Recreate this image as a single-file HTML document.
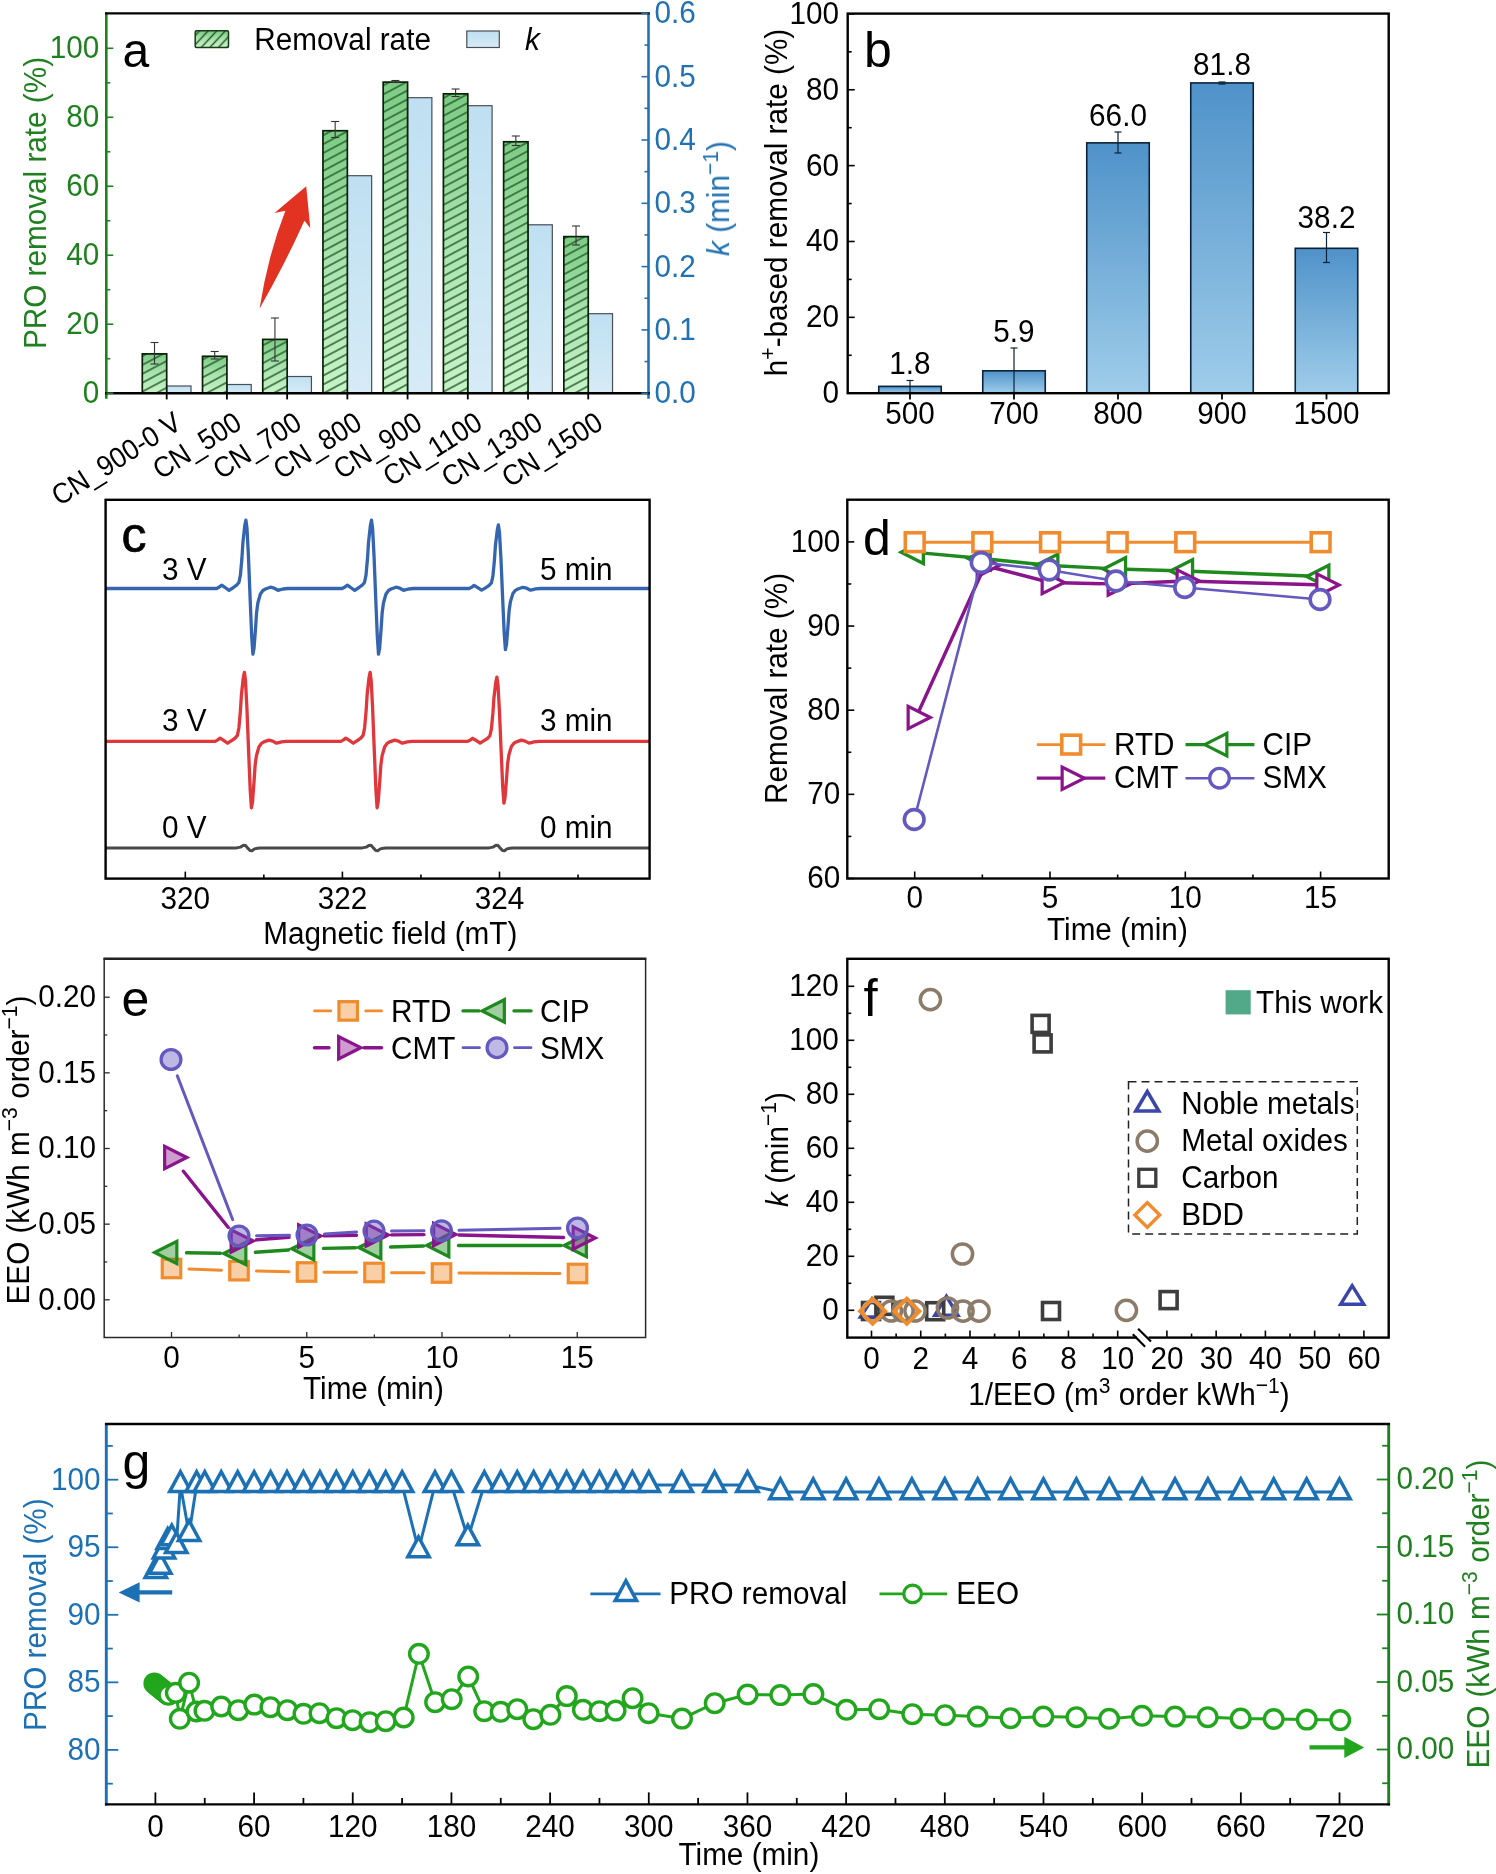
<!DOCTYPE html>
<html><head><meta charset="utf-8"><title>Figure</title>
<style>
html,body{margin:0;padding:0;background:#fff;}
svg{display:block;font-family:"Liberation Sans",sans-serif;}
</style></head><body>
<svg width="1496" height="1874" viewBox="0 0 1496 1874">
<defs>
<linearGradient id="gg" x1="0" y1="0" x2="0" y2="1"><stop offset="0" stop-color="#7CCB83"/><stop offset="0.5" stop-color="#ABE3B0"/><stop offset="1" stop-color="#C8F2C8"/></linearGradient>
<linearGradient id="gb" x1="0" y1="0" x2="0" y2="1"><stop offset="0" stop-color="#BFE0F2"/><stop offset="1" stop-color="#D6EBF6"/></linearGradient>
<linearGradient id="bb" x1="0" y1="0" x2="0" y2="1"><stop offset="0" stop-color="#4F92C9"/><stop offset="1" stop-color="#9FCDEA"/></linearGradient>
<pattern id="hatch" width="7.86" height="7.86" patternUnits="userSpaceOnUse" patternTransform="rotate(-28)"><line x1="0" y1="3.93" x2="7.86" y2="3.93" stroke="#24602c" stroke-width="1.5"/></pattern>
<pattern id="hatch2" width="6.3" height="6.3" patternUnits="userSpaceOnUse" patternTransform="rotate(-47)"><line x1="0" y1="3.15" x2="6.3" y2="3.15" stroke="#1d5524" stroke-width="1.4"/></pattern>
</defs>
<rect width="1496" height="1874" fill="#fff"/>
<g opacity="0.999">
<g id="panel-a">
<rect x="166.7" y="386" width="24.3" height="7.2" fill="url(#gb)" stroke="#4a4f55" stroke-width="1.2"/>
<rect x="142.3" y="353.88" width="24.4" height="39.32" fill="url(#gg)"/>
<rect x="142.3" y="353.88" width="24.4" height="39.32" fill="url(#hatch)" stroke="#0a1f0a" stroke-width="1.7"/>
<line x1="154.5" y1="342.5" x2="154.5" y2="364" stroke="#333" stroke-width="1.1" />
<line x1="150.5" y1="342.5" x2="158.5" y2="342.5" stroke="#333" stroke-width="1.1" />
<line x1="150.5" y1="364" x2="158.5" y2="364" stroke="#333" stroke-width="1.1" />
<rect x="226.92" y="384.5" width="24.3" height="8.7" fill="url(#gb)" stroke="#4a4f55" stroke-width="1.2"/>
<rect x="202.52" y="356.3" width="24.4" height="36.9" fill="url(#gg)"/>
<rect x="202.52" y="356.3" width="24.4" height="36.9" fill="url(#hatch)" stroke="#0a1f0a" stroke-width="1.7"/>
<line x1="214.72" y1="351.5" x2="214.72" y2="359" stroke="#333" stroke-width="1.1" />
<line x1="210.72" y1="351.5" x2="218.72" y2="351.5" stroke="#333" stroke-width="1.1" />
<line x1="210.72" y1="359" x2="218.72" y2="359" stroke="#333" stroke-width="1.1" />
<rect x="287.14" y="376.5" width="24.3" height="16.7" fill="url(#gb)" stroke="#4a4f55" stroke-width="1.2"/>
<rect x="262.74" y="339.4" width="24.4" height="53.8" fill="url(#gg)"/>
<rect x="262.74" y="339.4" width="24.4" height="53.8" fill="url(#hatch)" stroke="#0a1f0a" stroke-width="1.7"/>
<line x1="274.94" y1="318" x2="274.94" y2="361" stroke="#333" stroke-width="1.1" />
<line x1="270.94" y1="318" x2="278.94" y2="318" stroke="#333" stroke-width="1.1" />
<line x1="270.94" y1="361" x2="278.94" y2="361" stroke="#333" stroke-width="1.1" />
<rect x="347.36" y="175.7" width="24.3" height="217.5" fill="url(#gb)" stroke="#4a4f55" stroke-width="1.2"/>
<rect x="322.96" y="130.73" width="24.4" height="262.47" fill="url(#gg)"/>
<rect x="322.96" y="130.73" width="24.4" height="262.47" fill="url(#hatch)" stroke="#0a1f0a" stroke-width="1.7"/>
<line x1="335.16" y1="121.5" x2="335.16" y2="137.5" stroke="#333" stroke-width="1.1" />
<line x1="331.16" y1="121.5" x2="339.16" y2="121.5" stroke="#333" stroke-width="1.1" />
<line x1="331.16" y1="137.5" x2="339.16" y2="137.5" stroke="#333" stroke-width="1.1" />
<rect x="407.58" y="97.7" width="24.3" height="295.5" fill="url(#gb)" stroke="#4a4f55" stroke-width="1.2"/>
<rect x="383.18" y="82.1" width="24.4" height="311.1" fill="url(#gg)"/>
<rect x="383.18" y="82.1" width="24.4" height="311.1" fill="url(#hatch)" stroke="#0a1f0a" stroke-width="1.7"/>
<line x1="395.38" y1="80.5" x2="395.38" y2="82.5" stroke="#333" stroke-width="1.1" />
<line x1="391.38" y1="80.5" x2="399.38" y2="80.5" stroke="#333" stroke-width="1.1" />
<line x1="391.38" y1="82.5" x2="399.38" y2="82.5" stroke="#333" stroke-width="1.1" />
<rect x="467.8" y="105.7" width="24.3" height="287.5" fill="url(#gb)" stroke="#4a4f55" stroke-width="1.2"/>
<rect x="443.4" y="93.83" width="24.4" height="299.37" fill="url(#gg)"/>
<rect x="443.4" y="93.83" width="24.4" height="299.37" fill="url(#hatch)" stroke="#0a1f0a" stroke-width="1.7"/>
<line x1="455.6" y1="89" x2="455.6" y2="96.5" stroke="#333" stroke-width="1.1" />
<line x1="451.6" y1="89" x2="459.6" y2="89" stroke="#333" stroke-width="1.1" />
<line x1="451.6" y1="96.5" x2="459.6" y2="96.5" stroke="#333" stroke-width="1.1" />
<rect x="528.02" y="224.8" width="24.3" height="168.4" fill="url(#gb)" stroke="#4a4f55" stroke-width="1.2"/>
<rect x="503.62" y="141.77" width="24.4" height="251.43" fill="url(#gg)"/>
<rect x="503.62" y="141.77" width="24.4" height="251.43" fill="url(#hatch)" stroke="#0a1f0a" stroke-width="1.7"/>
<line x1="515.82" y1="136" x2="515.82" y2="145.5" stroke="#333" stroke-width="1.1" />
<line x1="511.82" y1="136" x2="519.82" y2="136" stroke="#333" stroke-width="1.1" />
<line x1="511.82" y1="145.5" x2="519.82" y2="145.5" stroke="#333" stroke-width="1.1" />
<rect x="588.24" y="313.7" width="24.3" height="79.5" fill="url(#gb)" stroke="#4a4f55" stroke-width="1.2"/>
<rect x="563.84" y="236.62" width="24.4" height="156.58" fill="url(#gg)"/>
<rect x="563.84" y="236.62" width="24.4" height="156.58" fill="url(#hatch)" stroke="#0a1f0a" stroke-width="1.7"/>
<line x1="576.04" y1="226" x2="576.04" y2="245" stroke="#333" stroke-width="1.1" />
<line x1="572.04" y1="226" x2="580.04" y2="226" stroke="#333" stroke-width="1.1" />
<line x1="572.04" y1="245" x2="580.04" y2="245" stroke="#333" stroke-width="1.1" />
<line x1="106.3" y1="12.4" x2="106.3" y2="398.7" stroke="#1F801F" stroke-width="2.6" />
<line x1="648.5" y1="12.4" x2="648.5" y2="398.7" stroke="#2272B2" stroke-width="2.6" />
<line x1="105" y1="13.4" x2="649.8" y2="13.4" stroke="#000" stroke-width="2.4" />
<line x1="105" y1="393.2" x2="649.8" y2="393.2" stroke="#000" stroke-width="2.4" />
<line x1="106.3" y1="393.2" x2="113.3" y2="393.2" stroke="#1F801F" stroke-width="1.6" />
<text transform="translate(99.4,403.1) scale(1,1.08)" xml:space="preserve" font-size="29.7" fill="#1F801F" text-anchor="end" >0</text>
<line x1="106.3" y1="324.22" x2="113.3" y2="324.22" stroke="#1F801F" stroke-width="1.6" />
<text transform="translate(99.4,334.12) scale(1,1.08)" xml:space="preserve" font-size="29.7" fill="#1F801F" text-anchor="end" >20</text>
<line x1="106.3" y1="255.24" x2="113.3" y2="255.24" stroke="#1F801F" stroke-width="1.6" />
<text transform="translate(99.4,265.14) scale(1,1.08)" xml:space="preserve" font-size="29.7" fill="#1F801F" text-anchor="end" >40</text>
<line x1="106.3" y1="186.26" x2="113.3" y2="186.26" stroke="#1F801F" stroke-width="1.6" />
<text transform="translate(99.4,196.16) scale(1,1.08)" xml:space="preserve" font-size="29.7" fill="#1F801F" text-anchor="end" >60</text>
<line x1="106.3" y1="117.28" x2="113.3" y2="117.28" stroke="#1F801F" stroke-width="1.6" />
<text transform="translate(99.4,127.18) scale(1,1.08)" xml:space="preserve" font-size="29.7" fill="#1F801F" text-anchor="end" >80</text>
<line x1="106.3" y1="48.3" x2="113.3" y2="48.3" stroke="#1F801F" stroke-width="1.6" />
<text transform="translate(99.4,58.2) scale(1,1.08)" xml:space="preserve" font-size="29.7" fill="#1F801F" text-anchor="end" >100</text>
<line x1="106.3" y1="358.71" x2="110.3" y2="358.71" stroke="#1F801F" stroke-width="1.6" />
<line x1="106.3" y1="289.73" x2="110.3" y2="289.73" stroke="#1F801F" stroke-width="1.6" />
<line x1="106.3" y1="220.75" x2="110.3" y2="220.75" stroke="#1F801F" stroke-width="1.6" />
<line x1="106.3" y1="151.77" x2="110.3" y2="151.77" stroke="#1F801F" stroke-width="1.6" />
<line x1="106.3" y1="82.79" x2="110.3" y2="82.79" stroke="#1F801F" stroke-width="1.6" />
<line x1="641.5" y1="393.2" x2="648.5" y2="393.2" stroke="#2272B2" stroke-width="1.6" />
<text transform="translate(654.5,403.1) scale(1,1.08)" xml:space="preserve" font-size="29.7" fill="#2272B2" text-anchor="start" >0.0</text>
<line x1="641.5" y1="329.9" x2="648.5" y2="329.9" stroke="#2272B2" stroke-width="1.6" />
<text transform="translate(654.5,339.8) scale(1,1.08)" xml:space="preserve" font-size="29.7" fill="#2272B2" text-anchor="start" >0.1</text>
<line x1="641.5" y1="266.6" x2="648.5" y2="266.6" stroke="#2272B2" stroke-width="1.6" />
<text transform="translate(654.5,276.5) scale(1,1.08)" xml:space="preserve" font-size="29.7" fill="#2272B2" text-anchor="start" >0.2</text>
<line x1="641.5" y1="203.3" x2="648.5" y2="203.3" stroke="#2272B2" stroke-width="1.6" />
<text transform="translate(654.5,213.2) scale(1,1.08)" xml:space="preserve" font-size="29.7" fill="#2272B2" text-anchor="start" >0.3</text>
<line x1="641.5" y1="140" x2="648.5" y2="140" stroke="#2272B2" stroke-width="1.6" />
<text transform="translate(654.5,149.9) scale(1,1.08)" xml:space="preserve" font-size="29.7" fill="#2272B2" text-anchor="start" >0.4</text>
<line x1="641.5" y1="76.7" x2="648.5" y2="76.7" stroke="#2272B2" stroke-width="1.6" />
<text transform="translate(654.5,86.6) scale(1,1.08)" xml:space="preserve" font-size="29.7" fill="#2272B2" text-anchor="start" >0.5</text>
<line x1="641.5" y1="13.4" x2="648.5" y2="13.4" stroke="#2272B2" stroke-width="1.6" />
<text transform="translate(654.5,23.3) scale(1,1.08)" xml:space="preserve" font-size="29.7" fill="#2272B2" text-anchor="start" >0.6</text>
<line x1="644.5" y1="361.55" x2="648.5" y2="361.55" stroke="#2272B2" stroke-width="1.6" />
<line x1="644.5" y1="298.25" x2="648.5" y2="298.25" stroke="#2272B2" stroke-width="1.6" />
<line x1="644.5" y1="234.95" x2="648.5" y2="234.95" stroke="#2272B2" stroke-width="1.6" />
<line x1="644.5" y1="171.65" x2="648.5" y2="171.65" stroke="#2272B2" stroke-width="1.6" />
<line x1="644.5" y1="108.35" x2="648.5" y2="108.35" stroke="#2272B2" stroke-width="1.6" />
<line x1="644.5" y1="45.05" x2="648.5" y2="45.05" stroke="#2272B2" stroke-width="1.6" />
<line x1="166.7" y1="393.2" x2="166.7" y2="399.4" stroke="#000" stroke-width="1.8" />
<line x1="226.92" y1="393.2" x2="226.92" y2="399.4" stroke="#000" stroke-width="1.8" />
<line x1="287.14" y1="393.2" x2="287.14" y2="399.4" stroke="#000" stroke-width="1.8" />
<line x1="347.36" y1="393.2" x2="347.36" y2="399.4" stroke="#000" stroke-width="1.8" />
<line x1="407.58" y1="393.2" x2="407.58" y2="399.4" stroke="#000" stroke-width="1.8" />
<line x1="467.8" y1="393.2" x2="467.8" y2="399.4" stroke="#000" stroke-width="1.8" />
<line x1="528.02" y1="393.2" x2="528.02" y2="399.4" stroke="#000" stroke-width="1.8" />
<line x1="588.24" y1="393.2" x2="588.24" y2="399.4" stroke="#000" stroke-width="1.8" />
<text transform="translate(183.2,427.5) rotate(-32.5) scale(1,1.08)" xml:space="preserve" font-size="26.7" fill="#000" text-anchor="end" >CN_900-0 V</text>
<text transform="translate(243.42,427.5) rotate(-32.5) scale(1,1.08)" xml:space="preserve" font-size="26.7" fill="#000" text-anchor="end" >CN_500</text>
<text transform="translate(303.64,427.5) rotate(-32.5) scale(1,1.08)" xml:space="preserve" font-size="26.7" fill="#000" text-anchor="end" >CN_700</text>
<text transform="translate(363.86,427.5) rotate(-32.5) scale(1,1.08)" xml:space="preserve" font-size="26.7" fill="#000" text-anchor="end" >CN_800</text>
<text transform="translate(424.08,427.5) rotate(-32.5) scale(1,1.08)" xml:space="preserve" font-size="26.7" fill="#000" text-anchor="end" >CN_900</text>
<text transform="translate(484.3,427.5) rotate(-32.5) scale(1,1.08)" xml:space="preserve" font-size="26.7" fill="#000" text-anchor="end" >CN_1100</text>
<text transform="translate(544.52,427.5) rotate(-32.5) scale(1,1.08)" xml:space="preserve" font-size="26.7" fill="#000" text-anchor="end" >CN_1300</text>
<text transform="translate(604.74,427.5) rotate(-32.5) scale(1,1.08)" xml:space="preserve" font-size="26.7" fill="#000" text-anchor="end" >CN_1500</text>
<text transform="translate(46,203) rotate(-90) scale(1,1.08)" xml:space="preserve" font-size="29.7" fill="#1F801F" text-anchor="middle" >PRO removal rate (%)</text>
<text transform="translate(729.5,198.5) rotate(-90) scale(1,1.08)" xml:space="preserve" font-size="29.7" fill="#2272B2" text-anchor="middle" ><tspan font-style="italic">k</tspan> (min<tspan dy="-10.69" font-size="21.09">−1</tspan><tspan dy="10.69" font-size="0.3"> </tspan>)</text>
<rect x="195.2" y="30.8" width="33.3" height="16.6" rx="1.2" fill="url(#gg)"/>
<rect x="195.2" y="30.8" width="33.3" height="16.6" rx="1.2" fill="url(#hatch2)" stroke="#1a3a1a" stroke-width="1.5"/>
<text transform="translate(254.3,49.5) scale(1,1.08)" xml:space="preserve" font-size="29.7" fill="#000" text-anchor="start" >Removal rate</text>
<rect x="466.8" y="31" width="32.5" height="16.5" fill="url(#gb)" stroke="#4a4f55" stroke-width="1.2"/>
<text transform="translate(525,49.5) scale(1,1.08)" xml:space="preserve" font-size="29.7" fill="#000" text-anchor="start" font-style="italic">k</text>
<text transform="translate(122.5,67.3)" xml:space="preserve" font-size="48" fill="#000" text-anchor="start" >a</text>
<path d="M259.5,308.8 Q268,255 285.4,210.8 L274.5,213.1 L306.2,186.3 L310.3,228.1 L304.4,220.8 Q286,262 259.5,308.8 Z" fill="#E23222"/>
</g>
<g id="panel-b">
<rect x="878.75" y="386.37" width="62.5" height="6.83" fill="url(#bb)" stroke="#0b2238" stroke-width="1.6"/>
<line x1="910" y1="380.5" x2="910" y2="392.5" stroke="#0b2238" stroke-width="1.2" />
<line x1="906.5" y1="380.5" x2="913.5" y2="380.5" stroke="#0b2238" stroke-width="1.2" />
<line x1="906.5" y1="392.5" x2="913.5" y2="392.5" stroke="#0b2238" stroke-width="1.2" />
<text transform="translate(910,373.5) scale(1,1.08)" xml:space="preserve" font-size="29.7" fill="#000" text-anchor="middle" >1.8</text>
<rect x="982.75" y="370.82" width="62.5" height="22.38" fill="url(#bb)" stroke="#0b2238" stroke-width="1.6"/>
<line x1="1014" y1="348" x2="1014" y2="392.5" stroke="#0b2238" stroke-width="1.2" />
<line x1="1010.5" y1="348" x2="1017.5" y2="348" stroke="#0b2238" stroke-width="1.2" />
<line x1="1010.5" y1="392.5" x2="1017.5" y2="392.5" stroke="#0b2238" stroke-width="1.2" />
<text transform="translate(1014,341.5) scale(1,1.08)" xml:space="preserve" font-size="29.7" fill="#000" text-anchor="middle" >5.9</text>
<rect x="1086.75" y="142.86" width="62.5" height="250.34" fill="url(#bb)" stroke="#0b2238" stroke-width="1.6"/>
<line x1="1118" y1="132" x2="1118" y2="153" stroke="#0b2238" stroke-width="1.2" />
<line x1="1114.5" y1="132" x2="1121.5" y2="132" stroke="#0b2238" stroke-width="1.2" />
<line x1="1114.5" y1="153" x2="1121.5" y2="153" stroke="#0b2238" stroke-width="1.2" />
<text transform="translate(1118,126) scale(1,1.08)" xml:space="preserve" font-size="29.7" fill="#000" text-anchor="middle" >66.0</text>
<rect x="1190.75" y="82.93" width="62.5" height="310.27" fill="url(#bb)" stroke="#0b2238" stroke-width="1.6"/>
<line x1="1222" y1="82" x2="1222" y2="84" stroke="#0b2238" stroke-width="1.2" />
<line x1="1218.5" y1="82" x2="1225.5" y2="82" stroke="#0b2238" stroke-width="1.2" />
<line x1="1218.5" y1="84" x2="1225.5" y2="84" stroke="#0b2238" stroke-width="1.2" />
<text transform="translate(1222,75) scale(1,1.08)" xml:space="preserve" font-size="29.7" fill="#000" text-anchor="middle" >81.8</text>
<rect x="1295.25" y="248.31" width="62.5" height="144.89" fill="url(#bb)" stroke="#0b2238" stroke-width="1.6"/>
<line x1="1326.5" y1="232.5" x2="1326.5" y2="262.5" stroke="#0b2238" stroke-width="1.2" />
<line x1="1323" y1="232.5" x2="1330" y2="232.5" stroke="#0b2238" stroke-width="1.2" />
<line x1="1323" y1="262.5" x2="1330" y2="262.5" stroke="#0b2238" stroke-width="1.2" />
<text transform="translate(1326.5,227.5) scale(1,1.08)" xml:space="preserve" font-size="29.7" fill="#000" text-anchor="middle" >38.2</text>
<rect x="847.7" y="13.6" width="541" height="379.6" fill="none" stroke="#000" stroke-width="2.4"/>
<line x1="847.7" y1="393.2" x2="854.7" y2="393.2" stroke="#000" stroke-width="1.6" />
<text transform="translate(839,403.1) scale(1,1.08)" xml:space="preserve" font-size="29.7" fill="#000" text-anchor="end" >0</text>
<line x1="847.7" y1="317.34" x2="854.7" y2="317.34" stroke="#000" stroke-width="1.6" />
<text transform="translate(839,327.24) scale(1,1.08)" xml:space="preserve" font-size="29.7" fill="#000" text-anchor="end" >20</text>
<line x1="847.7" y1="241.48" x2="854.7" y2="241.48" stroke="#000" stroke-width="1.6" />
<text transform="translate(839,251.38) scale(1,1.08)" xml:space="preserve" font-size="29.7" fill="#000" text-anchor="end" >40</text>
<line x1="847.7" y1="165.62" x2="854.7" y2="165.62" stroke="#000" stroke-width="1.6" />
<text transform="translate(839,175.52) scale(1,1.08)" xml:space="preserve" font-size="29.7" fill="#000" text-anchor="end" >60</text>
<line x1="847.7" y1="89.76" x2="854.7" y2="89.76" stroke="#000" stroke-width="1.6" />
<text transform="translate(839,99.66) scale(1,1.08)" xml:space="preserve" font-size="29.7" fill="#000" text-anchor="end" >80</text>
<line x1="847.7" y1="13.9" x2="854.7" y2="13.9" stroke="#000" stroke-width="1.6" />
<text transform="translate(839,23.8) scale(1,1.08)" xml:space="preserve" font-size="29.7" fill="#000" text-anchor="end" >100</text>
<line x1="847.7" y1="355.27" x2="851.7" y2="355.27" stroke="#000" stroke-width="1.6" />
<line x1="847.7" y1="279.41" x2="851.7" y2="279.41" stroke="#000" stroke-width="1.6" />
<line x1="847.7" y1="203.55" x2="851.7" y2="203.55" stroke="#000" stroke-width="1.6" />
<line x1="847.7" y1="127.69" x2="851.7" y2="127.69" stroke="#000" stroke-width="1.6" />
<line x1="847.7" y1="51.83" x2="851.7" y2="51.83" stroke="#000" stroke-width="1.6" />
<line x1="910" y1="393.2" x2="910" y2="399.4" stroke="#000" stroke-width="1.8" />
<text transform="translate(910,424) scale(1,1.08)" xml:space="preserve" font-size="29.7" fill="#000" text-anchor="middle" >500</text>
<line x1="1014" y1="393.2" x2="1014" y2="399.4" stroke="#000" stroke-width="1.8" />
<text transform="translate(1014,424) scale(1,1.08)" xml:space="preserve" font-size="29.7" fill="#000" text-anchor="middle" >700</text>
<line x1="1118" y1="393.2" x2="1118" y2="399.4" stroke="#000" stroke-width="1.8" />
<text transform="translate(1118,424) scale(1,1.08)" xml:space="preserve" font-size="29.7" fill="#000" text-anchor="middle" >800</text>
<line x1="1222" y1="393.2" x2="1222" y2="399.4" stroke="#000" stroke-width="1.8" />
<text transform="translate(1222,424) scale(1,1.08)" xml:space="preserve" font-size="29.7" fill="#000" text-anchor="middle" >900</text>
<line x1="1326.5" y1="393.2" x2="1326.5" y2="399.4" stroke="#000" stroke-width="1.8" />
<text transform="translate(1326.5,424) scale(1,1.08)" xml:space="preserve" font-size="29.7" fill="#000" text-anchor="middle" >1500</text>
<text transform="translate(786.5,202.5) rotate(-90) scale(1,1.08)" xml:space="preserve" font-size="29.7" fill="#000" text-anchor="middle" >h<tspan dy="-10.69" font-size="21.09">+</tspan><tspan dy="10.69" font-size="0.3"> </tspan>-based removal rate (%)</text>
<text transform="translate(864,67)" xml:space="preserve" font-size="50" fill="#000" text-anchor="start" >b</text>
</g>
<g id="panel-c">
<polyline points="105.6,588.5 216.6,588.5 219.4,587 221.6,585.2 224.4,587 229.1,590.3 233.4,587.5 236.6,585.2 238.9,582.5 240.4,575.2 241.9,558.5 242.9,542.6 244.8,525.5 245.9,520.1 247,528.5 248.4,555.2 250.4,605.3 251.7,636.5 252.9,654.2 254,648.5 255.4,630.4 256.6,612.5 257.9,602.8 260.4,594 262.9,590.5 265.4,589 270.4,587.2 274.2,588.2 278,590.3 280.4,589.7 283,589 288,588.5 342.2,588.5 345,587 347.2,585.2 350,587 354.7,590.3 359,587.5 362.2,585.2 364.5,582.5 366,575.2 367.5,558.5 368.5,542.6 370.4,525.5 371.5,520.1 372.6,528.5 374,555.2 376,605.3 377.3,636.5 378.5,654.2 379.6,648.5 381,630.4 382.2,612.5 383.5,602.8 386,594 388.5,590.5 391,589 396,587.2 399.8,588.2 403.6,590.3 406,589.7 408.6,589 413.6,588.5 469.1,588.5 471.9,587.11 474.1,585.43 476.9,587.11 481.6,590.17 485.9,587.57 489.1,585.43 491.4,582.92 492.9,576.13 494.4,560.6 495.4,545.81 497.3,529.91 498.4,524.89 499.5,532.7 500.9,557.53 502.9,604.12 504.2,633.14 505.4,649.6 506.5,644.3 507.9,627.47 509.1,610.82 510.4,601.8 512.9,593.62 515.4,590.36 517.9,588.97 522.9,587.29 526.7,588.22 530.5,590.17 532.9,589.62 535.5,588.97 540.5,588.5 649.6,588.5" fill="none" stroke="#3565AE" stroke-width="3.3" stroke-linejoin="round"/>
<polyline points="105.6,741.4 215.1,741.4 217.9,739.88 220.1,738.07 222.9,739.88 227.6,743.22 231.9,740.39 235.1,738.07 237.4,735.34 238.9,727.97 240.4,711.1 241.4,695.04 243.3,677.77 244.4,672.32 245.5,680.8 246.9,707.77 248.9,758.37 250.2,789.88 251.4,807.76 252.5,802 253.9,783.72 255.1,765.64 256.4,755.84 258.9,746.95 261.4,743.42 263.9,741.9 268.9,740.09 272.7,741.1 276.5,743.22 278.9,742.61 281.5,741.9 286.5,741.4 340.8,741.4 343.6,739.88 345.8,738.07 348.6,739.88 353.3,743.22 357.6,740.39 360.8,738.07 363.1,735.34 364.6,727.97 366.1,711.1 367.1,695.04 369,677.77 370.1,672.32 371.2,680.8 372.6,707.77 374.6,758.37 375.9,789.88 377.1,807.76 378.2,802 379.6,783.72 380.8,765.64 382.1,755.84 384.6,746.95 387.1,743.42 389.6,741.9 394.6,740.09 398.4,741.1 402.2,743.22 404.6,742.61 407.2,741.9 412.2,741.4 467.6,741.4 470.4,739.99 472.6,738.3 475.4,739.99 480.1,743.09 484.4,740.46 487.6,738.3 489.9,735.76 491.4,728.9 492.9,713.2 493.9,698.25 495.8,682.18 496.9,677.1 498,685 499.4,710.1 501.4,757.19 502.7,786.52 503.9,803.16 505,797.8 506.4,780.79 507.6,763.96 508.9,754.84 511.4,746.57 513.9,743.28 516.4,741.87 521.4,740.18 525.2,741.12 529,743.09 531.4,742.53 534,741.87 539,741.4 649.6,741.4" fill="none" stroke="#E0373C" stroke-width="3.3" stroke-linejoin="round"/>
<polyline points="105.6,847.9 236.5,847.9 240.5,847.1 243.5,845.3 245.5,845.5 247.5,847.9 250,850.5 252,850.7 254.5,848.9 257.5,848.2 260.5,847.9 362.3,847.9 366.3,847.1 369.3,845.3 371.3,845.5 373.3,847.9 375.8,850.5 377.8,850.7 380.3,848.9 383.3,848.2 386.3,847.9 489,847.9 493,847.1 496,845.3 498,845.5 500,847.9 502.5,850.5 504.5,850.7 507,848.9 510,848.2 513,847.9 649.6,847.9" fill="none" stroke="#4a4a4a" stroke-width="3.0" stroke-linejoin="round"/>
<rect x="105.6" y="499.8" width="544" height="378.8" fill="none" stroke="#000" stroke-width="2.4"/>
<line x1="185.3" y1="878.6" x2="185.3" y2="871.6" stroke="#000" stroke-width="1.6" />
<text transform="translate(185.3,908.8) scale(1,1.08)" xml:space="preserve" font-size="29.7" fill="#000" text-anchor="middle" >320</text>
<line x1="342.4" y1="878.6" x2="342.4" y2="871.6" stroke="#000" stroke-width="1.6" />
<text transform="translate(342.4,908.8) scale(1,1.08)" xml:space="preserve" font-size="29.7" fill="#000" text-anchor="middle" >322</text>
<line x1="499.5" y1="878.6" x2="499.5" y2="871.6" stroke="#000" stroke-width="1.6" />
<text transform="translate(499.5,908.8) scale(1,1.08)" xml:space="preserve" font-size="29.7" fill="#000" text-anchor="middle" >324</text>
<line x1="263.85" y1="878.6" x2="263.85" y2="874.6" stroke="#000" stroke-width="1.6" />
<line x1="420.95" y1="878.6" x2="420.95" y2="874.6" stroke="#000" stroke-width="1.6" />
<line x1="578.05" y1="878.6" x2="578.05" y2="874.6" stroke="#000" stroke-width="1.6" />
<text transform="translate(263.2,943.5) scale(1,1.08)" xml:space="preserve" font-size="29.7" fill="#000" text-anchor="start" >Magnetic field (mT)</text>
<text transform="translate(162,580) scale(1,1.08)" xml:space="preserve" font-size="29.7" fill="#000" text-anchor="start" >3 V</text>
<text transform="translate(540,580) scale(1,1.08)" xml:space="preserve" font-size="29.7" fill="#000" text-anchor="start" >5 min</text>
<text transform="translate(162,730.5) scale(1,1.08)" xml:space="preserve" font-size="29.7" fill="#000" text-anchor="start" >3 V</text>
<text transform="translate(540,730.5) scale(1,1.08)" xml:space="preserve" font-size="29.7" fill="#000" text-anchor="start" >3 min</text>
<text transform="translate(162,837.5) scale(1,1.08)" xml:space="preserve" font-size="29.7" fill="#000" text-anchor="start" >0 V</text>
<text transform="translate(540,837.5) scale(1,1.08)" xml:space="preserve" font-size="29.7" fill="#000" text-anchor="start" >0 min</text>
<text transform="translate(121.5,552)" xml:space="preserve" font-size="50" fill="#000" text-anchor="start" stroke="#000" stroke-width="0.7">c</text>
</g>
<g id="panel-d">
<polyline points="915.5,552.3 982.4,558.5 1050,565.5 1117.7,569 1184.7,571 1321,576.5" fill="none" stroke="#1E8A1E" stroke-width="3.3" />
<polygon points="901.2,552.3 923.35,541.1 923.35,563.5" fill="#fff" stroke="#1E8A1E" stroke-width="3.3" stroke-linejoin="miter" />
<polygon points="968.1,558.5 990.25,547.3 990.25,569.7" fill="#fff" stroke="#1E8A1E" stroke-width="3.3" stroke-linejoin="miter" />
<polygon points="1035.7,565.5 1057.85,554.3 1057.85,576.7" fill="#fff" stroke="#1E8A1E" stroke-width="3.3" stroke-linejoin="miter" />
<polygon points="1103.4,569 1125.55,557.8 1125.55,580.2" fill="#fff" stroke="#1E8A1E" stroke-width="3.3" stroke-linejoin="miter" />
<polygon points="1170.4,571 1192.55,559.8 1192.55,582.2" fill="#fff" stroke="#1E8A1E" stroke-width="3.3" stroke-linejoin="miter" />
<polygon points="1306.7,576.5 1328.85,565.3 1328.85,587.7" fill="#fff" stroke="#1E8A1E" stroke-width="3.3" stroke-linejoin="miter" />
<polyline points="914.7,542.2 982.35,542.2 1050,542.2 1117.65,542.2 1185.3,542.2 1320.6,542.2" fill="none" stroke="#F08C2D" stroke-width="3.0" />
<rect x="905.3" y="532.8" width="18.8" height="18.8" fill="#fff" stroke="#F08C2D" stroke-width="3.6" />
<rect x="972.95" y="532.8" width="18.8" height="18.8" fill="#fff" stroke="#F08C2D" stroke-width="3.6" />
<rect x="1040.6" y="532.8" width="18.8" height="18.8" fill="#fff" stroke="#F08C2D" stroke-width="3.6" />
<rect x="1108.25" y="532.8" width="18.8" height="18.8" fill="#fff" stroke="#F08C2D" stroke-width="3.6" />
<rect x="1175.9" y="532.8" width="18.8" height="18.8" fill="#fff" stroke="#F08C2D" stroke-width="3.6" />
<rect x="1311.2" y="532.8" width="18.8" height="18.8" fill="#fff" stroke="#F08C2D" stroke-width="3.6" />
<polyline points="916,717.5 985,565.5 1050,582.5 1116,584 1185,581 1324.7,585" fill="none" stroke="#8A148C" stroke-width="3.4" />
<polygon points="930.3,717.5 908.15,706.3 908.15,728.7" fill="#fff" stroke="#8A148C" stroke-width="3.2" stroke-linejoin="miter" />
<polygon points="999.3,565.5 977.15,554.3 977.15,576.7" fill="#fff" stroke="#8A148C" stroke-width="3.2" stroke-linejoin="miter" />
<polygon points="1064.3,582.5 1042.15,571.3 1042.15,593.7" fill="#fff" stroke="#8A148C" stroke-width="3.2" stroke-linejoin="miter" />
<polygon points="1130.3,584 1108.15,572.8 1108.15,595.2" fill="#fff" stroke="#8A148C" stroke-width="3.2" stroke-linejoin="miter" />
<polygon points="1199.3,581 1177.15,569.8 1177.15,592.2" fill="#fff" stroke="#8A148C" stroke-width="3.2" stroke-linejoin="miter" />
<polygon points="1339,585 1316.85,573.8 1316.85,596.2" fill="#fff" stroke="#8A148C" stroke-width="3.2" stroke-linejoin="miter" />
<polyline points="914.2,819.5 981.2,562.5 1049.2,570 1116,581 1184.7,587.5 1320,599.5" fill="none" stroke="#6459BE" stroke-width="2.6" />
<circle cx="914.2" cy="819.5" r="9.85" fill="#fff" stroke="#6459BE" stroke-width="3.6" />
<circle cx="981.2" cy="562.5" r="9.85" fill="#fff" stroke="#6459BE" stroke-width="3.6" />
<circle cx="1049.2" cy="570" r="9.85" fill="#fff" stroke="#6459BE" stroke-width="3.6" />
<circle cx="1116" cy="581" r="9.85" fill="#fff" stroke="#6459BE" stroke-width="3.6" />
<circle cx="1184.7" cy="587.5" r="9.85" fill="#fff" stroke="#6459BE" stroke-width="3.6" />
<circle cx="1320" cy="599.5" r="9.85" fill="#fff" stroke="#6459BE" stroke-width="3.6" />
<rect x="847.3" y="499.7" width="541.4" height="378.8" fill="none" stroke="#000" stroke-width="2.4"/>
<line x1="847.3" y1="878.5" x2="854.3" y2="878.5" stroke="#000" stroke-width="1.6" />
<text transform="translate(840.2,888.4) scale(1,1.08)" xml:space="preserve" font-size="29.7" fill="#000" text-anchor="end" >60</text>
<line x1="847.3" y1="794.35" x2="854.3" y2="794.35" stroke="#000" stroke-width="1.6" />
<text transform="translate(840.2,804.25) scale(1,1.08)" xml:space="preserve" font-size="29.7" fill="#000" text-anchor="end" >70</text>
<line x1="847.3" y1="710.2" x2="854.3" y2="710.2" stroke="#000" stroke-width="1.6" />
<text transform="translate(840.2,720.1) scale(1,1.08)" xml:space="preserve" font-size="29.7" fill="#000" text-anchor="end" >80</text>
<line x1="847.3" y1="626.05" x2="854.3" y2="626.05" stroke="#000" stroke-width="1.6" />
<text transform="translate(840.2,635.95) scale(1,1.08)" xml:space="preserve" font-size="29.7" fill="#000" text-anchor="end" >90</text>
<line x1="847.3" y1="541.9" x2="854.3" y2="541.9" stroke="#000" stroke-width="1.6" />
<text transform="translate(840.2,551.8) scale(1,1.08)" xml:space="preserve" font-size="29.7" fill="#000" text-anchor="end" >100</text>
<line x1="847.3" y1="836.42" x2="851.3" y2="836.42" stroke="#000" stroke-width="1.6" />
<line x1="847.3" y1="752.27" x2="851.3" y2="752.27" stroke="#000" stroke-width="1.6" />
<line x1="847.3" y1="668.12" x2="851.3" y2="668.12" stroke="#000" stroke-width="1.6" />
<line x1="847.3" y1="583.98" x2="851.3" y2="583.98" stroke="#000" stroke-width="1.6" />
<line x1="914.7" y1="878.5" x2="914.7" y2="871.5" stroke="#000" stroke-width="1.6" />
<text transform="translate(914.7,907.8) scale(1,1.08)" xml:space="preserve" font-size="29.7" fill="#000" text-anchor="middle" >0</text>
<line x1="1050" y1="878.5" x2="1050" y2="871.5" stroke="#000" stroke-width="1.6" />
<text transform="translate(1050,907.8) scale(1,1.08)" xml:space="preserve" font-size="29.7" fill="#000" text-anchor="middle" >5</text>
<line x1="1185.3" y1="878.5" x2="1185.3" y2="871.5" stroke="#000" stroke-width="1.6" />
<text transform="translate(1185.3,907.8) scale(1,1.08)" xml:space="preserve" font-size="29.7" fill="#000" text-anchor="middle" >10</text>
<line x1="1320.6" y1="878.5" x2="1320.6" y2="871.5" stroke="#000" stroke-width="1.6" />
<text transform="translate(1320.6,907.8) scale(1,1.08)" xml:space="preserve" font-size="29.7" fill="#000" text-anchor="middle" >15</text>
<line x1="982.35" y1="878.5" x2="982.35" y2="874.5" stroke="#000" stroke-width="1.6" />
<line x1="1117.65" y1="878.5" x2="1117.65" y2="874.5" stroke="#000" stroke-width="1.6" />
<line x1="1252.95" y1="878.5" x2="1252.95" y2="874.5" stroke="#000" stroke-width="1.6" />
<text transform="translate(1047,940) scale(1,1.08)" xml:space="preserve" font-size="29.7" fill="#000" text-anchor="start" >Time (min)</text>
<text transform="translate(786.6,688.5) rotate(-90) scale(1,1.08)" xml:space="preserve" font-size="29.7" fill="#000" text-anchor="middle" >Removal rate (%)</text>
<text transform="translate(863,554.5)" xml:space="preserve" font-size="50" fill="#000" text-anchor="start" >d</text>
<line x1="1036.8" y1="744.6" x2="1105.3" y2="744.6" stroke="#F08C2D" stroke-width="2.8" />
<rect x="1061.8" y="735.2" width="18.8" height="18.8" fill="#fff" stroke="#F08C2D" stroke-width="3.6" />
<text transform="translate(1114,754.5) scale(1,1.08)" xml:space="preserve" font-size="29.7" fill="#000" text-anchor="start" >RTD</text>
<line x1="1185.5" y1="744.6" x2="1254.4" y2="744.6" stroke="#1E8A1E" stroke-width="3.2" />
<polygon points="1204.7,744.6 1226.85,733.4 1226.85,755.8" fill="#fff" stroke="#1E8A1E" stroke-width="3.2" stroke-linejoin="miter" />
<text transform="translate(1262.5,754.5) scale(1,1.08)" xml:space="preserve" font-size="29.7" fill="#000" text-anchor="start" >CIP</text>
<line x1="1036.8" y1="778.2" x2="1105.3" y2="778.2" stroke="#8A148C" stroke-width="3.2" />
<polygon points="1084.3,778.2 1062.15,767 1062.15,789.4" fill="#fff" stroke="#8A148C" stroke-width="3.2" stroke-linejoin="miter" />
<text transform="translate(1114,788.1) scale(1,1.08)" xml:space="preserve" font-size="29.7" fill="#000" text-anchor="start" >CMT</text>
<line x1="1185.5" y1="778.2" x2="1254.4" y2="778.2" stroke="#6459BE" stroke-width="2.6" />
<circle cx="1219.5" cy="778.2" r="9.8" fill="#fff" stroke="#6459BE" stroke-width="3.3" />
<text transform="translate(1262.5,788.1) scale(1,1.08)" xml:space="preserve" font-size="29.7" fill="#000" text-anchor="start" >SMX</text>
</g>
<g id="panel-e">
<line x1="188.99" y1="1269.07" x2="221.51" y2="1270.13" stroke="#F08C2D" stroke-width="3.0" stroke-linecap="round"/>
<line x1="256.5" y1="1271.04" x2="289" y2="1271.66" stroke="#F08C2D" stroke-width="3.0" stroke-linecap="round"/>
<line x1="324" y1="1272.13" x2="356.5" y2="1272.37" stroke="#F08C2D" stroke-width="3.0" stroke-linecap="round"/>
<line x1="391.5" y1="1272.63" x2="424" y2="1272.87" stroke="#F08C2D" stroke-width="3.0" stroke-linecap="round"/>
<line x1="459" y1="1273.06" x2="560" y2="1273.44" stroke="#F08C2D" stroke-width="3.0" stroke-linecap="round"/>
<rect x="162.25" y="1259.25" width="18.5" height="18.5" fill="#F08C2D" stroke="#F08C2D" stroke-width="3.2" fill-opacity="0.42"/>
<rect x="229.75" y="1261.45" width="18.5" height="18.5" fill="#F08C2D" stroke="#F08C2D" stroke-width="3.2" fill-opacity="0.42"/>
<rect x="297.25" y="1262.75" width="18.5" height="18.5" fill="#F08C2D" stroke="#F08C2D" stroke-width="3.2" fill-opacity="0.42"/>
<rect x="364.75" y="1263.25" width="18.5" height="18.5" fill="#F08C2D" stroke="#F08C2D" stroke-width="3.2" fill-opacity="0.42"/>
<rect x="432.25" y="1263.75" width="18.5" height="18.5" fill="#F08C2D" stroke="#F08C2D" stroke-width="3.2" fill-opacity="0.42"/>
<rect x="568.25" y="1264.25" width="18.5" height="18.5" fill="#F08C2D" stroke="#F08C2D" stroke-width="3.2" fill-opacity="0.42"/>
<line x1="186.5" y1="1252.75" x2="220.5" y2="1253.25" stroke="#1E8A1E" stroke-width="3.4" stroke-linecap="round"/>
<line x1="255.46" y1="1252.27" x2="288.54" y2="1249.93" stroke="#1E8A1E" stroke-width="3.4" stroke-linecap="round"/>
<line x1="323.5" y1="1248.39" x2="355.5" y2="1247.81" stroke="#1E8A1E" stroke-width="3.4" stroke-linecap="round"/>
<line x1="390.49" y1="1246.99" x2="423.51" y2="1246.01" stroke="#1E8A1E" stroke-width="3.4" stroke-linecap="round"/>
<line x1="458.5" y1="1245.5" x2="561" y2="1245.5" stroke="#1E8A1E" stroke-width="3.4" stroke-linecap="round"/>
<polygon points="154.7,1252.5 176.85,1241.3 176.85,1263.7" fill="#1E8A1E" stroke="#1E8A1E" stroke-width="3.2" stroke-linejoin="miter" fill-opacity="0.42"/>
<polygon points="223.7,1253.5 245.85,1242.3 245.85,1264.7" fill="#1E8A1E" stroke="#1E8A1E" stroke-width="3.2" stroke-linejoin="miter" fill-opacity="0.42"/>
<polygon points="291.7,1248.7 313.85,1237.5 313.85,1259.9" fill="#1E8A1E" stroke="#1E8A1E" stroke-width="3.2" stroke-linejoin="miter" fill-opacity="0.42"/>
<polygon points="358.7,1247.5 380.85,1236.3 380.85,1258.7" fill="#1E8A1E" stroke="#1E8A1E" stroke-width="3.2" stroke-linejoin="miter" fill-opacity="0.42"/>
<polygon points="426.7,1245.5 448.85,1234.3 448.85,1256.7" fill="#1E8A1E" stroke="#1E8A1E" stroke-width="3.2" stroke-linejoin="miter" fill-opacity="0.42"/>
<polygon points="564.2,1245.5 586.35,1234.3 586.35,1256.7" fill="#1E8A1E" stroke="#1E8A1E" stroke-width="3.2" stroke-linejoin="miter" fill-opacity="0.42"/>
<line x1="183.4" y1="1171.19" x2="228.1" y2="1227.31" stroke="#8A148C" stroke-width="3.4" stroke-linecap="round"/>
<line x1="256.45" y1="1239.71" x2="289.05" y2="1237.29" stroke="#8A148C" stroke-width="3.4" stroke-linecap="round"/>
<line x1="324" y1="1235.74" x2="356.5" y2="1235.26" stroke="#8A148C" stroke-width="3.4" stroke-linecap="round"/>
<line x1="391.5" y1="1234.87" x2="424" y2="1234.63" stroke="#8A148C" stroke-width="3.4" stroke-linecap="round"/>
<line x1="458.99" y1="1234.94" x2="563.51" y2="1237.56" stroke="#8A148C" stroke-width="3.4" stroke-linecap="round"/>
<polygon points="186.8,1157.5 164.65,1146.3 164.65,1168.7" fill="#8A148C" stroke="#8A148C" stroke-width="3.2" stroke-linejoin="miter" fill-opacity="0.42"/>
<polygon points="253.3,1241 231.15,1229.8 231.15,1252.2" fill="#8A148C" stroke="#8A148C" stroke-width="3.2" stroke-linejoin="miter" fill-opacity="0.42"/>
<polygon points="320.8,1236 298.65,1224.8 298.65,1247.2" fill="#8A148C" stroke="#8A148C" stroke-width="3.2" stroke-linejoin="miter" fill-opacity="0.42"/>
<polygon points="388.3,1235 366.15,1223.8 366.15,1246.2" fill="#8A148C" stroke="#8A148C" stroke-width="3.2" stroke-linejoin="miter" fill-opacity="0.42"/>
<polygon points="455.8,1234.5 433.65,1223.3 433.65,1245.7" fill="#8A148C" stroke="#8A148C" stroke-width="3.2" stroke-linejoin="miter" fill-opacity="0.42"/>
<polygon points="595.3,1238 573.15,1226.8 573.15,1249.2" fill="#8A148C" stroke="#8A148C" stroke-width="3.2" stroke-linejoin="miter" fill-opacity="0.42"/>
<line x1="177.29" y1="1075.83" x2="232.71" y2="1219.67" stroke="#6459BE" stroke-width="3.0" stroke-linecap="round"/>
<line x1="256.5" y1="1235.74" x2="289.5" y2="1235.26" stroke="#6459BE" stroke-width="3.0" stroke-linecap="round"/>
<line x1="324.47" y1="1233.96" x2="356.53" y2="1232.04" stroke="#6459BE" stroke-width="3.0" stroke-linecap="round"/>
<line x1="391.5" y1="1230.92" x2="424" y2="1230.78" stroke="#6459BE" stroke-width="3.0" stroke-linecap="round"/>
<line x1="459" y1="1230.35" x2="560" y2="1228.35" stroke="#6459BE" stroke-width="3.0" stroke-linecap="round"/>
<circle cx="171" cy="1059.5" r="9.9" fill="#6459BE" stroke="#6459BE" stroke-width="3.3" fill-opacity="0.42"/>
<circle cx="239" cy="1236" r="9.9" fill="#6459BE" stroke="#6459BE" stroke-width="3.3" fill-opacity="0.42"/>
<circle cx="307" cy="1235" r="9.9" fill="#6459BE" stroke="#6459BE" stroke-width="3.3" fill-opacity="0.42"/>
<circle cx="374" cy="1231" r="9.9" fill="#6459BE" stroke="#6459BE" stroke-width="3.3" fill-opacity="0.42"/>
<circle cx="441.5" cy="1230.7" r="9.9" fill="#6459BE" stroke="#6459BE" stroke-width="3.3" fill-opacity="0.42"/>
<circle cx="577.5" cy="1228" r="9.9" fill="#6459BE" stroke="#6459BE" stroke-width="3.3" fill-opacity="0.42"/>
<rect x="104.2" y="958.4" width="541.4" height="379.1" fill="none" stroke="#2a2a2a" stroke-width="1.5"/>
<line x1="103.5" y1="958.8" x2="646.3" y2="958.8" stroke="#222" stroke-width="2.2" />
<line x1="104.2" y1="1299.8" x2="109.7" y2="1299.8" stroke="#2a2a2a" stroke-width="1.3" />
<text transform="translate(96,1309.7) scale(1,1.08)" xml:space="preserve" font-size="29.7" fill="#000" text-anchor="end" >0.00</text>
<line x1="104.2" y1="1224.15" x2="109.7" y2="1224.15" stroke="#2a2a2a" stroke-width="1.3" />
<text transform="translate(96,1234.05) scale(1,1.08)" xml:space="preserve" font-size="29.7" fill="#000" text-anchor="end" >0.05</text>
<line x1="104.2" y1="1148.5" x2="109.7" y2="1148.5" stroke="#2a2a2a" stroke-width="1.3" />
<text transform="translate(96,1158.4) scale(1,1.08)" xml:space="preserve" font-size="29.7" fill="#000" text-anchor="end" >0.10</text>
<line x1="104.2" y1="1072.85" x2="109.7" y2="1072.85" stroke="#2a2a2a" stroke-width="1.3" />
<text transform="translate(96,1082.75) scale(1,1.08)" xml:space="preserve" font-size="29.7" fill="#000" text-anchor="end" >0.15</text>
<line x1="104.2" y1="997.2" x2="109.7" y2="997.2" stroke="#2a2a2a" stroke-width="1.3" />
<text transform="translate(96,1007.1) scale(1,1.08)" xml:space="preserve" font-size="29.7" fill="#000" text-anchor="end" >0.20</text>
<line x1="104.2" y1="1261.97" x2="107.2" y2="1261.97" stroke="#2a2a2a" stroke-width="1.3" />
<line x1="104.2" y1="1186.32" x2="107.2" y2="1186.32" stroke="#2a2a2a" stroke-width="1.3" />
<line x1="104.2" y1="1110.67" x2="107.2" y2="1110.67" stroke="#2a2a2a" stroke-width="1.3" />
<line x1="104.2" y1="1035.02" x2="107.2" y2="1035.02" stroke="#2a2a2a" stroke-width="1.3" />
<line x1="104.2" y1="959.38" x2="107.2" y2="959.38" stroke="#2a2a2a" stroke-width="1.3" />
<line x1="171.5" y1="1337.5" x2="171.5" y2="1332" stroke="#2a2a2a" stroke-width="1.3" />
<text transform="translate(171.5,1367.8) scale(1,1.08)" xml:space="preserve" font-size="29.7" fill="#000" text-anchor="middle" >0</text>
<line x1="306.75" y1="1337.5" x2="306.75" y2="1332" stroke="#2a2a2a" stroke-width="1.3" />
<text transform="translate(306.75,1367.8) scale(1,1.08)" xml:space="preserve" font-size="29.7" fill="#000" text-anchor="middle" >5</text>
<line x1="442" y1="1337.5" x2="442" y2="1332" stroke="#2a2a2a" stroke-width="1.3" />
<text transform="translate(442,1367.8) scale(1,1.08)" xml:space="preserve" font-size="29.7" fill="#000" text-anchor="middle" >10</text>
<line x1="577.25" y1="1337.5" x2="577.25" y2="1332" stroke="#2a2a2a" stroke-width="1.3" />
<text transform="translate(577.25,1367.8) scale(1,1.08)" xml:space="preserve" font-size="29.7" fill="#000" text-anchor="middle" >15</text>
<line x1="239.12" y1="1337.5" x2="239.12" y2="1334.5" stroke="#2a2a2a" stroke-width="1.3" />
<line x1="374.38" y1="1337.5" x2="374.38" y2="1334.5" stroke="#2a2a2a" stroke-width="1.3" />
<line x1="509.62" y1="1337.5" x2="509.62" y2="1334.5" stroke="#2a2a2a" stroke-width="1.3" />
<text transform="translate(303,1398.8) scale(1,1.08)" xml:space="preserve" font-size="29.7" fill="#000" text-anchor="start" >Time (min)</text>
<text transform="translate(28.5,1150) rotate(-90) scale(1,1.08)" xml:space="preserve" font-size="29.7" fill="#000" text-anchor="middle" >EEO (kWh m<tspan dy="-10.69" font-size="21.09">−3</tspan><tspan dy="10.69" font-size="0.3"> </tspan> order<tspan dy="-10.69" font-size="21.09">−1</tspan><tspan dy="10.69" font-size="0.3"> </tspan>)</text>
<text transform="translate(121.5,1016)" xml:space="preserve" font-size="50" fill="#000" text-anchor="start" >e</text>
<line x1="314.5" y1="1010.9" x2="330.7" y2="1010.9" stroke="#F08C2D" stroke-width="2.8" stroke-linecap="round"/>
<line x1="365.7" y1="1010.9" x2="381.5" y2="1010.9" stroke="#F08C2D" stroke-width="2.8" stroke-linecap="round"/>
<rect x="338.95" y="1001.65" width="18.5" height="18.5" fill="#F08C2D" stroke="#F08C2D" stroke-width="3.2" fill-opacity="0.42"/>
<text transform="translate(391,1021.9) scale(1,1.08)" xml:space="preserve" font-size="29.7" fill="#000" text-anchor="start" >RTD</text>
<line x1="463" y1="1010.9" x2="479" y2="1010.9" stroke="#1E8A1E" stroke-width="3.4" stroke-linecap="round"/>
<line x1="514" y1="1010.9" x2="531" y2="1010.9" stroke="#1E8A1E" stroke-width="3.4" stroke-linecap="round"/>
<polygon points="482.2,1010.9 504.35,999.7 504.35,1022.1" fill="#1E8A1E" stroke="#1E8A1E" stroke-width="3.2" stroke-linejoin="miter" fill-opacity="0.42"/>
<text transform="translate(540,1021.9) scale(1,1.08)" xml:space="preserve" font-size="29.7" fill="#000" text-anchor="start" >CIP</text>
<line x1="314.5" y1="1047.7" x2="329" y2="1047.7" stroke="#8A148C" stroke-width="3.4" stroke-linecap="round"/>
<line x1="364" y1="1047.7" x2="381.5" y2="1047.7" stroke="#8A148C" stroke-width="3.4" stroke-linecap="round"/>
<polygon points="360.8,1047.7 338.65,1036.5 338.65,1058.9" fill="#8A148C" stroke="#8A148C" stroke-width="3.2" stroke-linejoin="miter" fill-opacity="0.42"/>
<text transform="translate(391,1058.7) scale(1,1.08)" xml:space="preserve" font-size="29.7" fill="#000" text-anchor="start" >CMT</text>
<line x1="463" y1="1047.7" x2="479.5" y2="1047.7" stroke="#6459BE" stroke-width="2.8" stroke-linecap="round"/>
<line x1="514.5" y1="1047.7" x2="531" y2="1047.7" stroke="#6459BE" stroke-width="2.8" stroke-linecap="round"/>
<circle cx="497" cy="1047.7" r="9.9" fill="#6459BE" stroke="#6459BE" stroke-width="3.3" fill-opacity="0.42"/>
<text transform="translate(540,1058.7) scale(1,1.08)" xml:space="preserve" font-size="29.7" fill="#000" text-anchor="start" >SMX</text>
</g>
<g id="panel-f">
<polygon points="872,1299 860.5,1317 883.5,1317" fill="none" stroke="#3A46A8" stroke-width="3.5" stroke-linejoin="miter"/>
<polygon points="946.4,1296.3 934.9,1315.2 957.9,1315.2" fill="none" stroke="#3A46A8" stroke-width="3.5" stroke-linejoin="miter"/>
<polygon points="1352.2,1285.7 1340.7,1304.2 1363.7,1304.2" fill="none" stroke="#3A46A8" stroke-width="3.5" stroke-linejoin="miter"/>
<rect x="862.5" y="1302.5" width="17" height="17" fill="none" stroke="#3d3d3d" stroke-width="3.6" />
<rect x="875.9" y="1297.3" width="17" height="17" fill="none" stroke="#3d3d3d" stroke-width="3.6" />
<rect x="926.7" y="1302.7" width="17" height="17" fill="none" stroke="#3d3d3d" stroke-width="3.6" />
<rect x="1042.5" y="1302.5" width="17" height="17" fill="none" stroke="#3d3d3d" stroke-width="3.6" />
<rect x="1160.1" y="1291.6" width="17" height="17" fill="none" stroke="#3d3d3d" stroke-width="3.6" />
<rect x="1032.1" y="1015.4" width="17" height="17" fill="none" stroke="#3d3d3d" stroke-width="3.6" />
<rect x="1034.1" y="1034.9" width="17" height="17" fill="none" stroke="#3d3d3d" stroke-width="3.6" />
<circle cx="872.6" cy="1311" r="9.8" fill="none" stroke="#a9a9a9" stroke-width="3.5" />
<circle cx="906" cy="1311" r="9.8" fill="none" stroke="#a9a9a9" stroke-width="3.5" />
<circle cx="891.3" cy="1311" r="10.1" fill="none" stroke="#8C7B68" stroke-width="3.5" />
<circle cx="903" cy="1311" r="10.1" fill="none" stroke="#8C7B68" stroke-width="3.5" />
<circle cx="915" cy="1311" r="10.1" fill="none" stroke="#8C7B68" stroke-width="3.5" />
<circle cx="947.5" cy="1308" r="10.1" fill="none" stroke="#8C7B68" stroke-width="3.5" />
<circle cx="963" cy="1311.2" r="10.1" fill="none" stroke="#8C7B68" stroke-width="3.5" />
<circle cx="979" cy="1311.2" r="10.1" fill="none" stroke="#8C7B68" stroke-width="3.5" />
<circle cx="962.5" cy="1254" r="10.1" fill="none" stroke="#8C7B68" stroke-width="3.5" />
<circle cx="930.4" cy="999.6" r="10.1" fill="none" stroke="#8C7B68" stroke-width="3.5" />
<circle cx="1126.4" cy="1310.3" r="10.1" fill="none" stroke="#8C7B68" stroke-width="3.5" />
<polygon points="872.6,1298.6 885.2,1311.2 872.6,1323.8 860,1311.2" fill="none" stroke="#F08C2D" stroke-width="3.8" />
<polygon points="906.8,1298.6 919.4,1311.2 906.8,1323.8 894.2,1311.2" fill="none" stroke="#F08C2D" stroke-width="3.8" />
<rect x="847.3" y="958.8" width="541.4" height="378.8" fill="none" stroke="#000" stroke-width="2.4"/>
<rect x="1137" y="1335" width="11.5" height="5.5" fill="#fff"/>
<line x1="1132.8" y1="1334.3" x2="1145.1" y2="1346.8" stroke="#000" stroke-width="2.2" />
<line x1="1138.1" y1="1328.7" x2="1151" y2="1341.5" stroke="#000" stroke-width="2.2" />
<line x1="847.3" y1="1310.3" x2="854.3" y2="1310.3" stroke="#000" stroke-width="1.6" />
<text transform="translate(838.8,1320.2) scale(1,1.08)" xml:space="preserve" font-size="29.7" fill="#000" text-anchor="end" >0</text>
<line x1="847.3" y1="1256.3" x2="854.3" y2="1256.3" stroke="#000" stroke-width="1.6" />
<text transform="translate(838.8,1266.2) scale(1,1.08)" xml:space="preserve" font-size="29.7" fill="#000" text-anchor="end" >20</text>
<line x1="847.3" y1="1202.3" x2="854.3" y2="1202.3" stroke="#000" stroke-width="1.6" />
<text transform="translate(838.8,1212.2) scale(1,1.08)" xml:space="preserve" font-size="29.7" fill="#000" text-anchor="end" >40</text>
<line x1="847.3" y1="1148.3" x2="854.3" y2="1148.3" stroke="#000" stroke-width="1.6" />
<text transform="translate(838.8,1158.2) scale(1,1.08)" xml:space="preserve" font-size="29.7" fill="#000" text-anchor="end" >60</text>
<line x1="847.3" y1="1094.3" x2="854.3" y2="1094.3" stroke="#000" stroke-width="1.6" />
<text transform="translate(838.8,1104.2) scale(1,1.08)" xml:space="preserve" font-size="29.7" fill="#000" text-anchor="end" >80</text>
<line x1="847.3" y1="1040.3" x2="854.3" y2="1040.3" stroke="#000" stroke-width="1.6" />
<text transform="translate(838.8,1050.2) scale(1,1.08)" xml:space="preserve" font-size="29.7" fill="#000" text-anchor="end" >100</text>
<line x1="847.3" y1="986.3" x2="854.3" y2="986.3" stroke="#000" stroke-width="1.6" />
<text transform="translate(838.8,996.2) scale(1,1.08)" xml:space="preserve" font-size="29.7" fill="#000" text-anchor="end" >120</text>
<line x1="847.3" y1="1283.3" x2="851.3" y2="1283.3" stroke="#000" stroke-width="1.6" />
<line x1="847.3" y1="1229.3" x2="851.3" y2="1229.3" stroke="#000" stroke-width="1.6" />
<line x1="847.3" y1="1175.3" x2="851.3" y2="1175.3" stroke="#000" stroke-width="1.6" />
<line x1="847.3" y1="1121.3" x2="851.3" y2="1121.3" stroke="#000" stroke-width="1.6" />
<line x1="847.3" y1="1067.3" x2="851.3" y2="1067.3" stroke="#000" stroke-width="1.6" />
<line x1="847.3" y1="1013.3" x2="851.3" y2="1013.3" stroke="#000" stroke-width="1.6" />
<line x1="871.5" y1="1337.6" x2="871.5" y2="1330.6" stroke="#000" stroke-width="1.6" />
<text transform="translate(871.5,1369) scale(1,1.08)" xml:space="preserve" font-size="29.7" fill="#000" text-anchor="middle" >0</text>
<line x1="920.74" y1="1337.6" x2="920.74" y2="1330.6" stroke="#000" stroke-width="1.6" />
<text transform="translate(920.74,1369) scale(1,1.08)" xml:space="preserve" font-size="29.7" fill="#000" text-anchor="middle" >2</text>
<line x1="969.98" y1="1337.6" x2="969.98" y2="1330.6" stroke="#000" stroke-width="1.6" />
<text transform="translate(969.98,1369) scale(1,1.08)" xml:space="preserve" font-size="29.7" fill="#000" text-anchor="middle" >4</text>
<line x1="1019.22" y1="1337.6" x2="1019.22" y2="1330.6" stroke="#000" stroke-width="1.6" />
<text transform="translate(1019.22,1369) scale(1,1.08)" xml:space="preserve" font-size="29.7" fill="#000" text-anchor="middle" >6</text>
<line x1="1068.46" y1="1337.6" x2="1068.46" y2="1330.6" stroke="#000" stroke-width="1.6" />
<text transform="translate(1068.46,1369) scale(1,1.08)" xml:space="preserve" font-size="29.7" fill="#000" text-anchor="middle" >8</text>
<line x1="1117.7" y1="1337.6" x2="1117.7" y2="1330.6" stroke="#000" stroke-width="1.6" />
<text transform="translate(1117.7,1369) scale(1,1.08)" xml:space="preserve" font-size="29.7" fill="#000" text-anchor="middle" >10</text>
<line x1="1166.9" y1="1337.6" x2="1166.9" y2="1330.6" stroke="#000" stroke-width="1.6" />
<text transform="translate(1166.9,1369) scale(1,1.08)" xml:space="preserve" font-size="29.7" fill="#000" text-anchor="middle" >20</text>
<line x1="1216.15" y1="1337.6" x2="1216.15" y2="1330.6" stroke="#000" stroke-width="1.6" />
<text transform="translate(1216.15,1369) scale(1,1.08)" xml:space="preserve" font-size="29.7" fill="#000" text-anchor="middle" >30</text>
<line x1="1265.4" y1="1337.6" x2="1265.4" y2="1330.6" stroke="#000" stroke-width="1.6" />
<text transform="translate(1265.4,1369) scale(1,1.08)" xml:space="preserve" font-size="29.7" fill="#000" text-anchor="middle" >40</text>
<line x1="1314.65" y1="1337.6" x2="1314.65" y2="1330.6" stroke="#000" stroke-width="1.6" />
<text transform="translate(1314.65,1369) scale(1,1.08)" xml:space="preserve" font-size="29.7" fill="#000" text-anchor="middle" >50</text>
<line x1="1363.9" y1="1337.6" x2="1363.9" y2="1330.6" stroke="#000" stroke-width="1.6" />
<text transform="translate(1363.9,1369) scale(1,1.08)" xml:space="preserve" font-size="29.7" fill="#000" text-anchor="middle" >60</text>
<line x1="896.12" y1="1337.6" x2="896.12" y2="1333.6" stroke="#000" stroke-width="1.6" />
<line x1="945.36" y1="1337.6" x2="945.36" y2="1333.6" stroke="#000" stroke-width="1.6" />
<line x1="994.6" y1="1337.6" x2="994.6" y2="1333.6" stroke="#000" stroke-width="1.6" />
<line x1="1043.84" y1="1337.6" x2="1043.84" y2="1333.6" stroke="#000" stroke-width="1.6" />
<line x1="1093.08" y1="1337.6" x2="1093.08" y2="1333.6" stroke="#000" stroke-width="1.6" />
<line x1="1191.53" y1="1337.6" x2="1191.53" y2="1333.6" stroke="#000" stroke-width="1.6" />
<line x1="1240.78" y1="1337.6" x2="1240.78" y2="1333.6" stroke="#000" stroke-width="1.6" />
<line x1="1290.03" y1="1337.6" x2="1290.03" y2="1333.6" stroke="#000" stroke-width="1.6" />
<line x1="1339.28" y1="1337.6" x2="1339.28" y2="1333.6" stroke="#000" stroke-width="1.6" />
<text transform="translate(968.3,1404.8) scale(1,1.08)" xml:space="preserve" font-size="29.7" fill="#000" text-anchor="start" >1/EEO (m<tspan dy="-10.69" font-size="21.09">3</tspan><tspan dy="10.69" font-size="0.3"> </tspan> order kWh<tspan dy="-10.69" font-size="21.09">−1</tspan><tspan dy="10.69" font-size="0.3"> </tspan>)</text>
<text transform="translate(787.5,1149.5) rotate(-90) scale(1,1.08)" xml:space="preserve" font-size="29.7" fill="#000" text-anchor="middle" ><tspan font-style="italic">k</tspan> (min<tspan dy="-10.69" font-size="21.09">−1</tspan><tspan dy="10.69" font-size="0.3"> </tspan>)</text>
<text transform="translate(863.5,1016)" xml:space="preserve" font-size="51" fill="#000" text-anchor="start" >f</text>
<rect x="1225.6" y="990.2" width="25.1" height="24.2" fill="#52A98A"/>
<text transform="translate(1256,1012.6) scale(1,1.08)" xml:space="preserve" font-size="29.7" fill="#000" text-anchor="start" >This work</text>
<rect x="1128.5" y="1081.8" width="228.8" height="152.1" fill="none" stroke="#222" stroke-width="1.5" stroke-dasharray="8 5"/>
<polygon points="1147.3,1091.5 1135.8,1111 1158.8,1111" fill="none" stroke="#3A46A8" stroke-width="3.5" stroke-linejoin="miter"/>
<text transform="translate(1181.2,1114.3) scale(1,1.08)" xml:space="preserve" font-size="29.7" fill="#000" text-anchor="start" >Noble metals</text>
<circle cx="1147.3" cy="1141.2" r="10.1" fill="none" stroke="#8C7B68" stroke-width="3.5" />
<text transform="translate(1181.2,1151.2) scale(1,1.08)" xml:space="preserve" font-size="29.7" fill="#000" text-anchor="start" >Metal oxides</text>
<rect x="1138.8" y="1169.3" width="17" height="17" fill="none" stroke="#3d3d3d" stroke-width="3.3" />
<text transform="translate(1181.2,1188.4) scale(1,1.08)" xml:space="preserve" font-size="29.7" fill="#000" text-anchor="start" >Carbon</text>
<polygon points="1147.3,1202.6 1159.7,1215 1147.3,1227.4 1134.9,1215" fill="none" stroke="#F08C2D" stroke-width="3.4" />
<text transform="translate(1181.2,1224.8) scale(1,1.08)" xml:space="preserve" font-size="29.7" fill="#000" text-anchor="start" >BDD</text>
</g>
<g id="panel-g">
<polyline points="155.8,1570.8 160.3,1566.5 164,1551.3 167.7,1541.8 171.8,1538.2 176.3,1545.9 180.4,1484.9 189.1,1533.8 196.6,1484.9 204.74,1484.9 221.18,1484.9 237.63,1484.9 254.08,1484.9 270.52,1484.9 286.97,1484.9 303.41,1484.9 319.86,1484.9 336.31,1484.9 352.75,1484.9 369.2,1484.9 385.64,1484.9 402.09,1484.9 418.54,1550 434.98,1484.9 451.43,1484.9 467.87,1538.2 484.32,1484.9 500.77,1484.9 517.21,1484.9 533.66,1484.9 550.1,1484.9 566.55,1484.9 583,1484.9 599.44,1484.9 615.89,1484.9 632.33,1484.9 648.78,1484.9 681.67,1484.9 714.56,1484.9 747.46,1484.9 780.35,1492 813.24,1492 846.13,1492 879.02,1492 911.92,1492 944.81,1492 977.7,1492 1010.59,1492 1043.48,1492 1076.38,1492 1109.27,1492 1142.16,1492 1175.05,1492 1207.94,1492 1240.84,1492 1273.73,1492 1306.62,1492 1339.51,1492" fill="none" stroke="#1C71B5" stroke-width="3.0" stroke-linejoin="round"/>
<polygon points="155.8,1557.66 145.1,1577.47 166.5,1577.47" fill="#fff" stroke="#1C71B5" stroke-width="3.5" stroke-linejoin="miter"/>
<polygon points="160.3,1553.36 149.6,1573.17 171,1573.17" fill="#fff" stroke="#1C71B5" stroke-width="3.5" stroke-linejoin="miter"/>
<polygon points="164,1538.16 153.3,1557.97 174.7,1557.97" fill="#fff" stroke="#1C71B5" stroke-width="3.5" stroke-linejoin="miter"/>
<polygon points="167.7,1528.66 157,1548.47 178.4,1548.47" fill="#fff" stroke="#1C71B5" stroke-width="3.5" stroke-linejoin="miter"/>
<polygon points="171.8,1525.06 161.1,1544.87 182.5,1544.87" fill="#fff" stroke="#1C71B5" stroke-width="3.5" stroke-linejoin="miter"/>
<polygon points="176.3,1532.76 165.6,1552.57 187,1552.57" fill="#fff" stroke="#1C71B5" stroke-width="3.5" stroke-linejoin="miter"/>
<polygon points="180.4,1471.76 169.7,1491.57 191.1,1491.57" fill="#fff" stroke="#1C71B5" stroke-width="3.5" stroke-linejoin="miter"/>
<polygon points="189.1,1520.66 178.4,1540.47 199.8,1540.47" fill="#fff" stroke="#1C71B5" stroke-width="3.5" stroke-linejoin="miter"/>
<polygon points="196.6,1471.76 185.9,1491.57 207.3,1491.57" fill="#fff" stroke="#1C71B5" stroke-width="3.5" stroke-linejoin="miter"/>
<polygon points="204.74,1471.76 194.04,1491.57 215.44,1491.57" fill="#fff" stroke="#1C71B5" stroke-width="3.5" stroke-linejoin="miter"/>
<polygon points="221.18,1471.76 210.48,1491.57 231.88,1491.57" fill="#fff" stroke="#1C71B5" stroke-width="3.5" stroke-linejoin="miter"/>
<polygon points="237.63,1471.76 226.93,1491.57 248.33,1491.57" fill="#fff" stroke="#1C71B5" stroke-width="3.5" stroke-linejoin="miter"/>
<polygon points="254.08,1471.76 243.38,1491.57 264.78,1491.57" fill="#fff" stroke="#1C71B5" stroke-width="3.5" stroke-linejoin="miter"/>
<polygon points="270.52,1471.76 259.82,1491.57 281.22,1491.57" fill="#fff" stroke="#1C71B5" stroke-width="3.5" stroke-linejoin="miter"/>
<polygon points="286.97,1471.76 276.27,1491.57 297.67,1491.57" fill="#fff" stroke="#1C71B5" stroke-width="3.5" stroke-linejoin="miter"/>
<polygon points="303.41,1471.76 292.71,1491.57 314.11,1491.57" fill="#fff" stroke="#1C71B5" stroke-width="3.5" stroke-linejoin="miter"/>
<polygon points="319.86,1471.76 309.16,1491.57 330.56,1491.57" fill="#fff" stroke="#1C71B5" stroke-width="3.5" stroke-linejoin="miter"/>
<polygon points="336.31,1471.76 325.61,1491.57 347.01,1491.57" fill="#fff" stroke="#1C71B5" stroke-width="3.5" stroke-linejoin="miter"/>
<polygon points="352.75,1471.76 342.05,1491.57 363.45,1491.57" fill="#fff" stroke="#1C71B5" stroke-width="3.5" stroke-linejoin="miter"/>
<polygon points="369.2,1471.76 358.5,1491.57 379.9,1491.57" fill="#fff" stroke="#1C71B5" stroke-width="3.5" stroke-linejoin="miter"/>
<polygon points="385.64,1471.76 374.94,1491.57 396.34,1491.57" fill="#fff" stroke="#1C71B5" stroke-width="3.5" stroke-linejoin="miter"/>
<polygon points="402.09,1471.76 391.39,1491.57 412.79,1491.57" fill="#fff" stroke="#1C71B5" stroke-width="3.5" stroke-linejoin="miter"/>
<polygon points="418.54,1536.86 407.84,1556.67 429.24,1556.67" fill="#fff" stroke="#1C71B5" stroke-width="3.5" stroke-linejoin="miter"/>
<polygon points="434.98,1471.76 424.28,1491.57 445.68,1491.57" fill="#fff" stroke="#1C71B5" stroke-width="3.5" stroke-linejoin="miter"/>
<polygon points="451.43,1471.76 440.73,1491.57 462.13,1491.57" fill="#fff" stroke="#1C71B5" stroke-width="3.5" stroke-linejoin="miter"/>
<polygon points="467.87,1525.06 457.17,1544.87 478.57,1544.87" fill="#fff" stroke="#1C71B5" stroke-width="3.5" stroke-linejoin="miter"/>
<polygon points="484.32,1471.76 473.62,1491.57 495.02,1491.57" fill="#fff" stroke="#1C71B5" stroke-width="3.5" stroke-linejoin="miter"/>
<polygon points="500.77,1471.76 490.07,1491.57 511.47,1491.57" fill="#fff" stroke="#1C71B5" stroke-width="3.5" stroke-linejoin="miter"/>
<polygon points="517.21,1471.76 506.51,1491.57 527.91,1491.57" fill="#fff" stroke="#1C71B5" stroke-width="3.5" stroke-linejoin="miter"/>
<polygon points="533.66,1471.76 522.96,1491.57 544.36,1491.57" fill="#fff" stroke="#1C71B5" stroke-width="3.5" stroke-linejoin="miter"/>
<polygon points="550.1,1471.76 539.4,1491.57 560.8,1491.57" fill="#fff" stroke="#1C71B5" stroke-width="3.5" stroke-linejoin="miter"/>
<polygon points="566.55,1471.76 555.85,1491.57 577.25,1491.57" fill="#fff" stroke="#1C71B5" stroke-width="3.5" stroke-linejoin="miter"/>
<polygon points="583,1471.76 572.3,1491.57 593.7,1491.57" fill="#fff" stroke="#1C71B5" stroke-width="3.5" stroke-linejoin="miter"/>
<polygon points="599.44,1471.76 588.74,1491.57 610.14,1491.57" fill="#fff" stroke="#1C71B5" stroke-width="3.5" stroke-linejoin="miter"/>
<polygon points="615.89,1471.76 605.19,1491.57 626.59,1491.57" fill="#fff" stroke="#1C71B5" stroke-width="3.5" stroke-linejoin="miter"/>
<polygon points="632.33,1471.76 621.63,1491.57 643.03,1491.57" fill="#fff" stroke="#1C71B5" stroke-width="3.5" stroke-linejoin="miter"/>
<polygon points="648.78,1471.76 638.08,1491.57 659.48,1491.57" fill="#fff" stroke="#1C71B5" stroke-width="3.5" stroke-linejoin="miter"/>
<polygon points="681.67,1471.76 670.97,1491.57 692.37,1491.57" fill="#fff" stroke="#1C71B5" stroke-width="3.5" stroke-linejoin="miter"/>
<polygon points="714.56,1471.76 703.86,1491.57 725.26,1491.57" fill="#fff" stroke="#1C71B5" stroke-width="3.5" stroke-linejoin="miter"/>
<polygon points="747.46,1471.76 736.76,1491.57 758.16,1491.57" fill="#fff" stroke="#1C71B5" stroke-width="3.5" stroke-linejoin="miter"/>
<polygon points="780.35,1478.86 769.65,1498.67 791.05,1498.67" fill="#fff" stroke="#1C71B5" stroke-width="3.5" stroke-linejoin="miter"/>
<polygon points="813.24,1478.86 802.54,1498.67 823.94,1498.67" fill="#fff" stroke="#1C71B5" stroke-width="3.5" stroke-linejoin="miter"/>
<polygon points="846.13,1478.86 835.43,1498.67 856.83,1498.67" fill="#fff" stroke="#1C71B5" stroke-width="3.5" stroke-linejoin="miter"/>
<polygon points="879.02,1478.86 868.32,1498.67 889.72,1498.67" fill="#fff" stroke="#1C71B5" stroke-width="3.5" stroke-linejoin="miter"/>
<polygon points="911.92,1478.86 901.22,1498.67 922.62,1498.67" fill="#fff" stroke="#1C71B5" stroke-width="3.5" stroke-linejoin="miter"/>
<polygon points="944.81,1478.86 934.11,1498.67 955.51,1498.67" fill="#fff" stroke="#1C71B5" stroke-width="3.5" stroke-linejoin="miter"/>
<polygon points="977.7,1478.86 967,1498.67 988.4,1498.67" fill="#fff" stroke="#1C71B5" stroke-width="3.5" stroke-linejoin="miter"/>
<polygon points="1010.59,1478.86 999.89,1498.67 1021.29,1498.67" fill="#fff" stroke="#1C71B5" stroke-width="3.5" stroke-linejoin="miter"/>
<polygon points="1043.48,1478.86 1032.78,1498.67 1054.18,1498.67" fill="#fff" stroke="#1C71B5" stroke-width="3.5" stroke-linejoin="miter"/>
<polygon points="1076.38,1478.86 1065.68,1498.67 1087.08,1498.67" fill="#fff" stroke="#1C71B5" stroke-width="3.5" stroke-linejoin="miter"/>
<polygon points="1109.27,1478.86 1098.57,1498.67 1119.97,1498.67" fill="#fff" stroke="#1C71B5" stroke-width="3.5" stroke-linejoin="miter"/>
<polygon points="1142.16,1478.86 1131.46,1498.67 1152.86,1498.67" fill="#fff" stroke="#1C71B5" stroke-width="3.5" stroke-linejoin="miter"/>
<polygon points="1175.05,1478.86 1164.35,1498.67 1185.75,1498.67" fill="#fff" stroke="#1C71B5" stroke-width="3.5" stroke-linejoin="miter"/>
<polygon points="1207.94,1478.86 1197.24,1498.67 1218.64,1498.67" fill="#fff" stroke="#1C71B5" stroke-width="3.5" stroke-linejoin="miter"/>
<polygon points="1240.84,1478.86 1230.14,1498.67 1251.54,1498.67" fill="#fff" stroke="#1C71B5" stroke-width="3.5" stroke-linejoin="miter"/>
<polygon points="1273.73,1478.86 1263.03,1498.67 1284.43,1498.67" fill="#fff" stroke="#1C71B5" stroke-width="3.5" stroke-linejoin="miter"/>
<polygon points="1306.62,1478.86 1295.92,1498.67 1317.32,1498.67" fill="#fff" stroke="#1C71B5" stroke-width="3.5" stroke-linejoin="miter"/>
<polygon points="1339.51,1478.86 1328.81,1498.67 1350.21,1498.67" fill="#fff" stroke="#1C71B5" stroke-width="3.5" stroke-linejoin="miter"/>
<polyline points="154.4,1683.4 156.4,1685.03 158.4,1686.66 160.4,1688.29 162.4,1689.91 164.4,1691.54 166.4,1693.17 168.4,1694.8 175.8,1692.8 179.8,1718.8 189.1,1682.7 196.5,1711.5 204.5,1710.8 221.2,1706.5 238.3,1710.2 254.3,1704.6 270.4,1707.2 287.4,1710.2 303.5,1713.8 319.5,1713.2 336.5,1718.2 352.6,1720.2 369.6,1722.2 385.7,1721.2 403.7,1717.5 418.9,1653.8 435.1,1702.2 451.7,1699.2 468.2,1676.5 484.2,1711.2 500.7,1711.8 517.3,1709.2 533.3,1719.2 550.4,1714.8 566.8,1696.1 582.9,1709.8 599.5,1711.2 615.6,1710.6 632.6,1698.2 648.6,1713.2 682,1718.6 714.7,1703.2 747.6,1694.5 780.3,1695.1 813.4,1694.1 846.5,1709.8 879.2,1709.2 912.3,1714.2 945.1,1715.2 977.7,1716.6 1010.6,1718.2 1043.3,1716.6 1076.4,1717.2 1109.1,1718.8 1142,1715.8 1175,1716.6 1207.7,1717.2 1240.7,1718.5 1273.7,1719 1306.8,1719.6 1340.2,1720.1" fill="none" stroke="#21A61D" stroke-width="3.0" stroke-linejoin="round"/>
<circle cx="154.4" cy="1683.4" r="9.3" fill="#fff" stroke="#21A61D" stroke-width="3.4" />
<circle cx="156.4" cy="1685.03" r="9.3" fill="#fff" stroke="#21A61D" stroke-width="3.4" />
<circle cx="158.4" cy="1686.66" r="9.3" fill="#fff" stroke="#21A61D" stroke-width="3.4" />
<circle cx="160.4" cy="1688.29" r="9.3" fill="#fff" stroke="#21A61D" stroke-width="3.4" />
<circle cx="162.4" cy="1689.91" r="9.3" fill="#fff" stroke="#21A61D" stroke-width="3.4" />
<circle cx="164.4" cy="1691.54" r="9.3" fill="#fff" stroke="#21A61D" stroke-width="3.4" />
<circle cx="166.4" cy="1693.17" r="9.3" fill="#fff" stroke="#21A61D" stroke-width="3.4" />
<circle cx="168.4" cy="1694.8" r="9.3" fill="#fff" stroke="#21A61D" stroke-width="3.4" />
<circle cx="175.8" cy="1692.8" r="9.3" fill="#fff" stroke="#21A61D" stroke-width="3.4" />
<circle cx="179.8" cy="1718.8" r="9.3" fill="#fff" stroke="#21A61D" stroke-width="3.4" />
<circle cx="189.1" cy="1682.7" r="9.3" fill="#fff" stroke="#21A61D" stroke-width="3.4" />
<circle cx="196.5" cy="1711.5" r="9.3" fill="#fff" stroke="#21A61D" stroke-width="3.4" />
<circle cx="204.5" cy="1710.8" r="9.3" fill="#fff" stroke="#21A61D" stroke-width="3.4" />
<circle cx="221.2" cy="1706.5" r="9.3" fill="#fff" stroke="#21A61D" stroke-width="3.4" />
<circle cx="238.3" cy="1710.2" r="9.3" fill="#fff" stroke="#21A61D" stroke-width="3.4" />
<circle cx="254.3" cy="1704.6" r="9.3" fill="#fff" stroke="#21A61D" stroke-width="3.4" />
<circle cx="270.4" cy="1707.2" r="9.3" fill="#fff" stroke="#21A61D" stroke-width="3.4" />
<circle cx="287.4" cy="1710.2" r="9.3" fill="#fff" stroke="#21A61D" stroke-width="3.4" />
<circle cx="303.5" cy="1713.8" r="9.3" fill="#fff" stroke="#21A61D" stroke-width="3.4" />
<circle cx="319.5" cy="1713.2" r="9.3" fill="#fff" stroke="#21A61D" stroke-width="3.4" />
<circle cx="336.5" cy="1718.2" r="9.3" fill="#fff" stroke="#21A61D" stroke-width="3.4" />
<circle cx="352.6" cy="1720.2" r="9.3" fill="#fff" stroke="#21A61D" stroke-width="3.4" />
<circle cx="369.6" cy="1722.2" r="9.3" fill="#fff" stroke="#21A61D" stroke-width="3.4" />
<circle cx="385.7" cy="1721.2" r="9.3" fill="#fff" stroke="#21A61D" stroke-width="3.4" />
<circle cx="403.7" cy="1717.5" r="9.3" fill="#fff" stroke="#21A61D" stroke-width="3.4" />
<circle cx="418.9" cy="1653.8" r="9.3" fill="#fff" stroke="#21A61D" stroke-width="3.4" />
<circle cx="435.1" cy="1702.2" r="9.3" fill="#fff" stroke="#21A61D" stroke-width="3.4" />
<circle cx="451.7" cy="1699.2" r="9.3" fill="#fff" stroke="#21A61D" stroke-width="3.4" />
<circle cx="468.2" cy="1676.5" r="9.3" fill="#fff" stroke="#21A61D" stroke-width="3.4" />
<circle cx="484.2" cy="1711.2" r="9.3" fill="#fff" stroke="#21A61D" stroke-width="3.4" />
<circle cx="500.7" cy="1711.8" r="9.3" fill="#fff" stroke="#21A61D" stroke-width="3.4" />
<circle cx="517.3" cy="1709.2" r="9.3" fill="#fff" stroke="#21A61D" stroke-width="3.4" />
<circle cx="533.3" cy="1719.2" r="9.3" fill="#fff" stroke="#21A61D" stroke-width="3.4" />
<circle cx="550.4" cy="1714.8" r="9.3" fill="#fff" stroke="#21A61D" stroke-width="3.4" />
<circle cx="566.8" cy="1696.1" r="9.3" fill="#fff" stroke="#21A61D" stroke-width="3.4" />
<circle cx="582.9" cy="1709.8" r="9.3" fill="#fff" stroke="#21A61D" stroke-width="3.4" />
<circle cx="599.5" cy="1711.2" r="9.3" fill="#fff" stroke="#21A61D" stroke-width="3.4" />
<circle cx="615.6" cy="1710.6" r="9.3" fill="#fff" stroke="#21A61D" stroke-width="3.4" />
<circle cx="632.6" cy="1698.2" r="9.3" fill="#fff" stroke="#21A61D" stroke-width="3.4" />
<circle cx="648.6" cy="1713.2" r="9.3" fill="#fff" stroke="#21A61D" stroke-width="3.4" />
<circle cx="682" cy="1718.6" r="9.3" fill="#fff" stroke="#21A61D" stroke-width="3.4" />
<circle cx="714.7" cy="1703.2" r="9.3" fill="#fff" stroke="#21A61D" stroke-width="3.4" />
<circle cx="747.6" cy="1694.5" r="9.3" fill="#fff" stroke="#21A61D" stroke-width="3.4" />
<circle cx="780.3" cy="1695.1" r="9.3" fill="#fff" stroke="#21A61D" stroke-width="3.4" />
<circle cx="813.4" cy="1694.1" r="9.3" fill="#fff" stroke="#21A61D" stroke-width="3.4" />
<circle cx="846.5" cy="1709.8" r="9.3" fill="#fff" stroke="#21A61D" stroke-width="3.4" />
<circle cx="879.2" cy="1709.2" r="9.3" fill="#fff" stroke="#21A61D" stroke-width="3.4" />
<circle cx="912.3" cy="1714.2" r="9.3" fill="#fff" stroke="#21A61D" stroke-width="3.4" />
<circle cx="945.1" cy="1715.2" r="9.3" fill="#fff" stroke="#21A61D" stroke-width="3.4" />
<circle cx="977.7" cy="1716.6" r="9.3" fill="#fff" stroke="#21A61D" stroke-width="3.4" />
<circle cx="1010.6" cy="1718.2" r="9.3" fill="#fff" stroke="#21A61D" stroke-width="3.4" />
<circle cx="1043.3" cy="1716.6" r="9.3" fill="#fff" stroke="#21A61D" stroke-width="3.4" />
<circle cx="1076.4" cy="1717.2" r="9.3" fill="#fff" stroke="#21A61D" stroke-width="3.4" />
<circle cx="1109.1" cy="1718.8" r="9.3" fill="#fff" stroke="#21A61D" stroke-width="3.4" />
<circle cx="1142" cy="1715.8" r="9.3" fill="#fff" stroke="#21A61D" stroke-width="3.4" />
<circle cx="1175" cy="1716.6" r="9.3" fill="#fff" stroke="#21A61D" stroke-width="3.4" />
<circle cx="1207.7" cy="1717.2" r="9.3" fill="#fff" stroke="#21A61D" stroke-width="3.4" />
<circle cx="1240.7" cy="1718.5" r="9.3" fill="#fff" stroke="#21A61D" stroke-width="3.4" />
<circle cx="1273.7" cy="1719" r="9.3" fill="#fff" stroke="#21A61D" stroke-width="3.4" />
<circle cx="1306.8" cy="1719.6" r="9.3" fill="#fff" stroke="#21A61D" stroke-width="3.4" />
<circle cx="1340.2" cy="1720.1" r="9.3" fill="#fff" stroke="#21A61D" stroke-width="3.4" />
<line x1="106.3" y1="1423" x2="106.3" y2="1805.4" stroke="#1C71B5" stroke-width="2.9" />
<line x1="1388.7" y1="1423" x2="1388.7" y2="1805.4" stroke="#1F801F" stroke-width="2.9" />
<line x1="105" y1="1424" x2="1390" y2="1424" stroke="#000" stroke-width="2.4" />
<line x1="105" y1="1804.4" x2="1390" y2="1804.4" stroke="#000" stroke-width="2.4" />
<line x1="106.3" y1="1749.9" x2="118.3" y2="1749.9" stroke="#1C71B5" stroke-width="1.8" />
<text transform="translate(100.5,1759.8) scale(1,1.08)" xml:space="preserve" font-size="29.7" fill="#1C71B5" text-anchor="end" >80</text>
<line x1="106.3" y1="1682.35" x2="118.3" y2="1682.35" stroke="#1C71B5" stroke-width="1.8" />
<text transform="translate(100.5,1692.25) scale(1,1.08)" xml:space="preserve" font-size="29.7" fill="#1C71B5" text-anchor="end" >85</text>
<line x1="106.3" y1="1614.8" x2="118.3" y2="1614.8" stroke="#1C71B5" stroke-width="1.8" />
<text transform="translate(100.5,1624.7) scale(1,1.08)" xml:space="preserve" font-size="29.7" fill="#1C71B5" text-anchor="end" >90</text>
<line x1="106.3" y1="1547.25" x2="118.3" y2="1547.25" stroke="#1C71B5" stroke-width="1.8" />
<text transform="translate(100.5,1557.15) scale(1,1.08)" xml:space="preserve" font-size="29.7" fill="#1C71B5" text-anchor="end" >95</text>
<line x1="106.3" y1="1479.7" x2="118.3" y2="1479.7" stroke="#1C71B5" stroke-width="1.8" />
<text transform="translate(100.5,1489.6) scale(1,1.08)" xml:space="preserve" font-size="29.7" fill="#1C71B5" text-anchor="end" >100</text>
<line x1="106.3" y1="1783.68" x2="112.8" y2="1783.68" stroke="#1C71B5" stroke-width="1.8" />
<line x1="106.3" y1="1716.12" x2="112.8" y2="1716.12" stroke="#1C71B5" stroke-width="1.8" />
<line x1="106.3" y1="1648.58" x2="112.8" y2="1648.58" stroke="#1C71B5" stroke-width="1.8" />
<line x1="106.3" y1="1581.03" x2="112.8" y2="1581.03" stroke="#1C71B5" stroke-width="1.8" />
<line x1="106.3" y1="1513.48" x2="112.8" y2="1513.48" stroke="#1C71B5" stroke-width="1.8" />
<line x1="106.3" y1="1445.92" x2="112.8" y2="1445.92" stroke="#1C71B5" stroke-width="1.8" />
<line x1="1376.7" y1="1749.5" x2="1388.7" y2="1749.5" stroke="#1F801F" stroke-width="1.8" />
<text transform="translate(1396.5,1759.4) scale(1,1.08)" xml:space="preserve" font-size="29.7" fill="#1F801F" text-anchor="start" >0.00</text>
<line x1="1376.7" y1="1682" x2="1388.7" y2="1682" stroke="#1F801F" stroke-width="1.8" />
<text transform="translate(1396.5,1691.9) scale(1,1.08)" xml:space="preserve" font-size="29.7" fill="#1F801F" text-anchor="start" >0.05</text>
<line x1="1376.7" y1="1614.5" x2="1388.7" y2="1614.5" stroke="#1F801F" stroke-width="1.8" />
<text transform="translate(1396.5,1624.4) scale(1,1.08)" xml:space="preserve" font-size="29.7" fill="#1F801F" text-anchor="start" >0.10</text>
<line x1="1376.7" y1="1547" x2="1388.7" y2="1547" stroke="#1F801F" stroke-width="1.8" />
<text transform="translate(1396.5,1556.9) scale(1,1.08)" xml:space="preserve" font-size="29.7" fill="#1F801F" text-anchor="start" >0.15</text>
<line x1="1376.7" y1="1479.5" x2="1388.7" y2="1479.5" stroke="#1F801F" stroke-width="1.8" />
<text transform="translate(1396.5,1489.4) scale(1,1.08)" xml:space="preserve" font-size="29.7" fill="#1F801F" text-anchor="start" >0.20</text>
<line x1="1382.2" y1="1783.25" x2="1388.7" y2="1783.25" stroke="#1F801F" stroke-width="1.8" />
<line x1="1382.2" y1="1715.75" x2="1388.7" y2="1715.75" stroke="#1F801F" stroke-width="1.8" />
<line x1="1382.2" y1="1648.25" x2="1388.7" y2="1648.25" stroke="#1F801F" stroke-width="1.8" />
<line x1="1382.2" y1="1580.75" x2="1388.7" y2="1580.75" stroke="#1F801F" stroke-width="1.8" />
<line x1="1382.2" y1="1513.25" x2="1388.7" y2="1513.25" stroke="#1F801F" stroke-width="1.8" />
<line x1="1382.2" y1="1445.75" x2="1388.7" y2="1445.75" stroke="#1F801F" stroke-width="1.8" />
<line x1="155.4" y1="1804.4" x2="155.4" y2="1792.4" stroke="#000" stroke-width="1.8" />
<text transform="translate(155.4,1837.3) scale(1,1.08)" xml:space="preserve" font-size="29.7" fill="#000" text-anchor="middle" >0</text>
<line x1="254.08" y1="1804.4" x2="254.08" y2="1792.4" stroke="#000" stroke-width="1.8" />
<text transform="translate(254.08,1837.3) scale(1,1.08)" xml:space="preserve" font-size="29.7" fill="#000" text-anchor="middle" >60</text>
<line x1="352.75" y1="1804.4" x2="352.75" y2="1792.4" stroke="#000" stroke-width="1.8" />
<text transform="translate(352.75,1837.3) scale(1,1.08)" xml:space="preserve" font-size="29.7" fill="#000" text-anchor="middle" >120</text>
<line x1="451.43" y1="1804.4" x2="451.43" y2="1792.4" stroke="#000" stroke-width="1.8" />
<text transform="translate(451.43,1837.3) scale(1,1.08)" xml:space="preserve" font-size="29.7" fill="#000" text-anchor="middle" >180</text>
<line x1="550.1" y1="1804.4" x2="550.1" y2="1792.4" stroke="#000" stroke-width="1.8" />
<text transform="translate(550.1,1837.3) scale(1,1.08)" xml:space="preserve" font-size="29.7" fill="#000" text-anchor="middle" >240</text>
<line x1="648.78" y1="1804.4" x2="648.78" y2="1792.4" stroke="#000" stroke-width="1.8" />
<text transform="translate(648.78,1837.3) scale(1,1.08)" xml:space="preserve" font-size="29.7" fill="#000" text-anchor="middle" >300</text>
<line x1="747.46" y1="1804.4" x2="747.46" y2="1792.4" stroke="#000" stroke-width="1.8" />
<text transform="translate(747.46,1837.3) scale(1,1.08)" xml:space="preserve" font-size="29.7" fill="#000" text-anchor="middle" >360</text>
<line x1="846.13" y1="1804.4" x2="846.13" y2="1792.4" stroke="#000" stroke-width="1.8" />
<text transform="translate(846.13,1837.3) scale(1,1.08)" xml:space="preserve" font-size="29.7" fill="#000" text-anchor="middle" >420</text>
<line x1="944.81" y1="1804.4" x2="944.81" y2="1792.4" stroke="#000" stroke-width="1.8" />
<text transform="translate(944.81,1837.3) scale(1,1.08)" xml:space="preserve" font-size="29.7" fill="#000" text-anchor="middle" >480</text>
<line x1="1043.48" y1="1804.4" x2="1043.48" y2="1792.4" stroke="#000" stroke-width="1.8" />
<text transform="translate(1043.48,1837.3) scale(1,1.08)" xml:space="preserve" font-size="29.7" fill="#000" text-anchor="middle" >540</text>
<line x1="1142.16" y1="1804.4" x2="1142.16" y2="1792.4" stroke="#000" stroke-width="1.8" />
<text transform="translate(1142.16,1837.3) scale(1,1.08)" xml:space="preserve" font-size="29.7" fill="#000" text-anchor="middle" >600</text>
<line x1="1240.84" y1="1804.4" x2="1240.84" y2="1792.4" stroke="#000" stroke-width="1.8" />
<text transform="translate(1240.84,1837.3) scale(1,1.08)" xml:space="preserve" font-size="29.7" fill="#000" text-anchor="middle" >660</text>
<line x1="1339.51" y1="1804.4" x2="1339.51" y2="1792.4" stroke="#000" stroke-width="1.8" />
<text transform="translate(1339.51,1837.3) scale(1,1.08)" xml:space="preserve" font-size="29.7" fill="#000" text-anchor="middle" >720</text>
<line x1="204.74" y1="1804.4" x2="204.74" y2="1797.9" stroke="#000" stroke-width="1.8" />
<line x1="303.41" y1="1804.4" x2="303.41" y2="1797.9" stroke="#000" stroke-width="1.8" />
<line x1="402.09" y1="1804.4" x2="402.09" y2="1797.9" stroke="#000" stroke-width="1.8" />
<line x1="500.77" y1="1804.4" x2="500.77" y2="1797.9" stroke="#000" stroke-width="1.8" />
<line x1="599.44" y1="1804.4" x2="599.44" y2="1797.9" stroke="#000" stroke-width="1.8" />
<line x1="698.12" y1="1804.4" x2="698.12" y2="1797.9" stroke="#000" stroke-width="1.8" />
<line x1="796.79" y1="1804.4" x2="796.79" y2="1797.9" stroke="#000" stroke-width="1.8" />
<line x1="895.47" y1="1804.4" x2="895.47" y2="1797.9" stroke="#000" stroke-width="1.8" />
<line x1="994.15" y1="1804.4" x2="994.15" y2="1797.9" stroke="#000" stroke-width="1.8" />
<line x1="1092.82" y1="1804.4" x2="1092.82" y2="1797.9" stroke="#000" stroke-width="1.8" />
<line x1="1191.5" y1="1804.4" x2="1191.5" y2="1797.9" stroke="#000" stroke-width="1.8" />
<line x1="1290.17" y1="1804.4" x2="1290.17" y2="1797.9" stroke="#000" stroke-width="1.8" />
<text transform="translate(678.5,1864.8) scale(1,1.08)" xml:space="preserve" font-size="29.7" fill="#000" text-anchor="start" >Time (min)</text>
<text transform="translate(46,1614.7) rotate(-90) scale(1,1.08)" xml:space="preserve" font-size="29.7" fill="#1C71B5" text-anchor="middle" >PRO removal (%)</text>
<text transform="translate(1489,1614) rotate(-90) scale(1,1.08)" xml:space="preserve" font-size="29.7" fill="#1F801F" text-anchor="middle" >EEO (kWh m<tspan dy="-10.69" font-size="21.09">−3</tspan><tspan dy="10.69" font-size="0.3"> </tspan> order<tspan dy="-10.69" font-size="21.09">−1</tspan><tspan dy="10.69" font-size="0.3"> </tspan>)</text>
<text transform="translate(122.5,1479)" xml:space="preserve" font-size="50" fill="#000" text-anchor="start" >g</text>
<line x1="138" y1="1592.4" x2="172.2" y2="1592.4" stroke="#1C71B5" stroke-width="4.2" />
<polygon points="118.7,1592.4 139.6,1582.2 139.6,1602.6" fill="#1C71B5" stroke="none" stroke-width="0" />
<line x1="1309.5" y1="1747.4" x2="1346" y2="1747.4" stroke="#21A61D" stroke-width="4.4" />
<polygon points="1364.2,1747.4 1344.3,1736.7 1344.3,1758.1" fill="#21A61D" stroke="none" stroke-width="0" />
<line x1="590.4" y1="1593.9" x2="660.5" y2="1593.9" stroke="#1C71B5" stroke-width="2.8" />
<polygon points="625.9,1580.76 615.2,1600.57 636.6,1600.57" fill="#fff" stroke="#1C71B5" stroke-width="3.5" stroke-linejoin="miter"/>
<text transform="translate(669.2,1604) scale(1,1.08)" xml:space="preserve" font-size="29.7" fill="#000" text-anchor="start" >PRO removal</text>
<line x1="879.5" y1="1593.9" x2="947" y2="1593.9" stroke="#21A61D" stroke-width="2.8" />
<circle cx="912.6" cy="1593.9" r="8.8" fill="#fff" stroke="#21A61D" stroke-width="3.2" />
<text transform="translate(956.3,1604) scale(1,1.08)" xml:space="preserve" font-size="29.7" fill="#000" text-anchor="start" >EEO</text>
</g>
</g>
</svg>
</body></html>
